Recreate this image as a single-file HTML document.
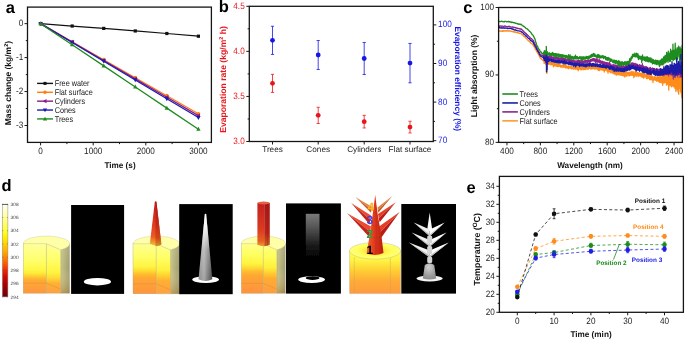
<!DOCTYPE html>
<html><head><meta charset="utf-8"><style>
html,body{margin:0;padding:0;background:#fff;}
svg{display:block;}
text{font-family:"Liberation Sans", sans-serif;text-rendering:geometricPrecision;}
svg{will-change:transform;}
</style></head><body>
<svg width="685" height="340" viewBox="0 0 685 340" font-family="Liberation Sans, sans-serif">
<rect width="685" height="340" fill="#fff"/>
<text x="5.8" y="12.8" font-size="16.5" text-anchor="start" fill="#000" font-weight="bold" >a</text>
<rect x="27.5" y="7.1" width="183.9" height="135.3" fill="none" stroke="#151515" stroke-width="1.3"/>
<line x1="24.5" y1="23.65" x2="27.5" y2="23.65" stroke="#1a1a1a" stroke-width="1.0" />
<text transform="translate(23.2,26.15) scale(0.89,1)" font-size="9.2" text-anchor="end" fill="#222" font-weight="normal" >0</text>
<line x1="24.5" y1="57.6" x2="27.5" y2="57.6" stroke="#1a1a1a" stroke-width="1.0" />
<text transform="translate(23.2,60.1) scale(0.89,1)" font-size="9.2" text-anchor="end" fill="#222" font-weight="normal" >-1</text>
<line x1="24.5" y1="91.55" x2="27.5" y2="91.55" stroke="#1a1a1a" stroke-width="1.0" />
<text transform="translate(23.2,94.05) scale(0.89,1)" font-size="9.2" text-anchor="end" fill="#222" font-weight="normal" >-2</text>
<line x1="24.5" y1="125.5" x2="27.5" y2="125.5" stroke="#1a1a1a" stroke-width="1.0" />
<text transform="translate(23.2,128) scale(0.89,1)" font-size="9.2" text-anchor="end" fill="#222" font-weight="normal" >-3</text>
<line x1="25.8" y1="40.62" x2="27.5" y2="40.62" stroke="#1a1a1a" stroke-width="1.0" />
<line x1="25.8" y1="74.57" x2="27.5" y2="74.57" stroke="#1a1a1a" stroke-width="1.0" />
<line x1="25.8" y1="108.53" x2="27.5" y2="108.53" stroke="#1a1a1a" stroke-width="1.0" />
<line x1="40.6" y1="142.4" x2="40.6" y2="145.4" stroke="#1a1a1a" stroke-width="1.0" />
<text transform="translate(40.6,154) scale(0.89,1)" font-size="9.2" text-anchor="middle" fill="#222" font-weight="normal" >0</text>
<line x1="93.2" y1="142.4" x2="93.2" y2="145.4" stroke="#1a1a1a" stroke-width="1.0" />
<text transform="translate(93.2,154) scale(0.89,1)" font-size="9.2" text-anchor="middle" fill="#222" font-weight="normal" >1000</text>
<line x1="145.8" y1="142.4" x2="145.8" y2="145.4" stroke="#1a1a1a" stroke-width="1.0" />
<text transform="translate(145.8,154) scale(0.89,1)" font-size="9.2" text-anchor="middle" fill="#222" font-weight="normal" >2000</text>
<line x1="198.4" y1="142.4" x2="198.4" y2="145.4" stroke="#1a1a1a" stroke-width="1.0" />
<text transform="translate(198.4,154) scale(0.89,1)" font-size="9.2" text-anchor="middle" fill="#222" font-weight="normal" >3000</text>
<line x1="66.9" y1="142.4" x2="66.9" y2="144.1" stroke="#1a1a1a" stroke-width="1.0" />
<line x1="119.5" y1="142.4" x2="119.5" y2="144.1" stroke="#1a1a1a" stroke-width="1.0" />
<line x1="172.1" y1="142.4" x2="172.1" y2="144.1" stroke="#1a1a1a" stroke-width="1.0" />
<text x="120" y="168" font-size="8.2" text-anchor="middle" fill="#111" font-weight="bold" >Time (s)</text>
<text transform="translate(10.8,83.1) rotate(-90)" font-size="8.5" text-anchor="middle" font-weight="bold" fill="#111">Mass change (kg/m<tspan font-size="5.5" dy="-3">2</tspan><tspan dy="3">)</tspan></text>
<polyline points="40.6,23.65 72.16,26.03 103.72,28.4 135.28,30.95 166.84,33.5 198.4,36.21" fill="none" stroke="#111111" stroke-width="1.25" stroke-linejoin="round" />
<rect x="39" y="22.05" width="3.2" height="3.2" fill="#111111"/>
<rect x="70.56" y="24.43" width="3.2" height="3.2" fill="#111111"/>
<rect x="102.12" y="26.8" width="3.2" height="3.2" fill="#111111"/>
<rect x="133.68" y="29.35" width="3.2" height="3.2" fill="#111111"/>
<rect x="165.24" y="31.9" width="3.2" height="3.2" fill="#111111"/>
<rect x="196.8" y="34.61" width="3.2" height="3.2" fill="#111111"/>
<polyline points="40.6,23.65 72.16,41.68 103.72,59.7 135.28,77.73 166.84,95.76 198.4,113.79" fill="none" stroke="#FF7F0E" stroke-width="1.25" stroke-linejoin="round" />
<circle cx="40.6" cy="23.65" r="1.9" fill="#FF7F0E"/>
<circle cx="72.16" cy="41.68" r="1.9" fill="#FF7F0E"/>
<circle cx="103.72" cy="59.7" r="1.9" fill="#FF7F0E"/>
<circle cx="135.28" cy="77.73" r="1.9" fill="#FF7F0E"/>
<circle cx="166.84" cy="95.76" r="1.9" fill="#FF7F0E"/>
<circle cx="198.4" cy="113.79" r="1.9" fill="#FF7F0E"/>
<polyline points="40.6,23.65 72.16,42.05 103.72,60.45 135.28,78.85 166.84,97.25 198.4,115.65" fill="none" stroke="#8B1A8B" stroke-width="1.25" stroke-linejoin="round" />
<polygon points="38.2,23.65 42.2,21.45 42.2,25.85" fill="#8B1A8B"/>
<polygon points="69.76,42.05 73.76,39.85 73.76,44.25" fill="#8B1A8B"/>
<polygon points="101.32,60.45 105.32,58.25 105.32,62.65" fill="#8B1A8B"/>
<polygon points="132.88,78.85 136.88,76.65 136.88,81.05" fill="#8B1A8B"/>
<polygon points="164.44,97.25 168.44,95.05 168.44,99.45" fill="#8B1A8B"/>
<polygon points="196,115.65 200,113.45 200,117.85" fill="#8B1A8B"/>
<polyline points="40.6,23.65 72.16,42.42 103.72,61.2 135.28,79.97 166.84,98.75 198.4,117.52" fill="none" stroke="#1A1AB4" stroke-width="1.25" stroke-linejoin="round" />
<polygon points="40.6,26.05 38.4,22.05 42.8,22.05" fill="#1A1AB4"/>
<polygon points="72.16,44.82 69.96,40.82 74.36,40.82" fill="#1A1AB4"/>
<polygon points="103.72,63.6 101.52,59.6 105.92,59.6" fill="#1A1AB4"/>
<polygon points="135.28,82.37 133.08,78.37 137.48,78.37" fill="#1A1AB4"/>
<polygon points="166.84,101.15 164.64,97.15 169.04,97.15" fill="#1A1AB4"/>
<polygon points="198.4,119.92 196.2,115.92 200.6,115.92" fill="#1A1AB4"/>
<polyline points="40.6,23.65 72.16,44.77 103.72,65.88 135.28,87 166.84,108.12 198.4,129.23" fill="none" stroke="#1E8B1E" stroke-width="1.25" stroke-linejoin="round" />
<polygon points="40.6,21.25 38.4,25.25 42.8,25.25" fill="#1E8B1E"/>
<polygon points="72.16,42.37 69.96,46.37 74.36,46.37" fill="#1E8B1E"/>
<polygon points="103.72,63.48 101.52,67.48 105.92,67.48" fill="#1E8B1E"/>
<polygon points="135.28,84.6 133.08,88.6 137.48,88.6" fill="#1E8B1E"/>
<polygon points="166.84,105.72 164.64,109.72 169.04,109.72" fill="#1E8B1E"/>
<polygon points="198.4,126.83 196.2,130.83 200.6,130.83" fill="#1E8B1E"/>
<line x1="37.1" y1="83.4" x2="53" y2="83.4" stroke="#111111" stroke-width="1.4" />
<rect x="43.48" y="81.88" width="3.04" height="3.04" fill="#111111"/>
<text transform="translate(54.7,86.2) scale(0.87,1)" font-size="8.4" text-anchor="start" fill="#222" font-weight="normal" >Free water</text>
<line x1="37.1" y1="92.28" x2="53" y2="92.28" stroke="#FF7F0E" stroke-width="1.4" />
<circle cx="45" cy="92.28" r="1.8" fill="#FF7F0E"/>
<text transform="translate(54.7,95.08) scale(0.87,1)" font-size="8.4" text-anchor="start" fill="#222" font-weight="normal" >Flat surface</text>
<line x1="37.1" y1="101.16" x2="53" y2="101.16" stroke="#8B1A8B" stroke-width="1.4" />
<polygon points="42.72,101.16 46.52,99.07 46.52,103.25" fill="#8B1A8B"/>
<text transform="translate(54.7,103.96) scale(0.87,1)" font-size="8.4" text-anchor="start" fill="#222" font-weight="normal" >Cylinders</text>
<line x1="37.1" y1="110.04" x2="53" y2="110.04" stroke="#1A1AB4" stroke-width="1.4" />
<polygon points="45,112.32 42.91,108.52 47.09,108.52" fill="#1A1AB4"/>
<text transform="translate(54.7,112.84) scale(0.87,1)" font-size="8.4" text-anchor="start" fill="#222" font-weight="normal" >Cones</text>
<line x1="37.1" y1="118.92" x2="53" y2="118.92" stroke="#1E8B1E" stroke-width="1.4" />
<polygon points="45,116.64 42.91,120.44 47.09,120.44" fill="#1E8B1E"/>
<text transform="translate(54.7,121.72) scale(0.87,1)" font-size="8.4" text-anchor="start" fill="#222" font-weight="normal" >Trees</text>
<text x="218.8" y="12" font-size="16.5" text-anchor="start" fill="#000" font-weight="bold" >b</text>
<rect x="249.3" y="6.3" width="184" height="135.2" fill="none" stroke="#151515" stroke-width="1.3"/>
<line x1="246.3" y1="141.5" x2="249.3" y2="141.5" stroke="#1a1a1a" stroke-width="1.0" />
<text transform="translate(244.7,144) scale(0.89,1)" font-size="9.2" text-anchor="end" fill="#E8161C" font-weight="normal" >3.0</text>
<line x1="246.3" y1="96.43" x2="249.3" y2="96.43" stroke="#1a1a1a" stroke-width="1.0" />
<text transform="translate(244.7,98.93) scale(0.89,1)" font-size="9.2" text-anchor="end" fill="#E8161C" font-weight="normal" >3.5</text>
<line x1="246.3" y1="51.37" x2="249.3" y2="51.37" stroke="#1a1a1a" stroke-width="1.0" />
<text transform="translate(244.7,53.87) scale(0.89,1)" font-size="9.2" text-anchor="end" fill="#E8161C" font-weight="normal" >4.0</text>
<line x1="246.3" y1="6.3" x2="249.3" y2="6.3" stroke="#1a1a1a" stroke-width="1.0" />
<text transform="translate(244.7,8.8) scale(0.89,1)" font-size="9.2" text-anchor="end" fill="#E8161C" font-weight="normal" >4.5</text>
<line x1="247.6" y1="118.97" x2="249.3" y2="118.97" stroke="#1a1a1a" stroke-width="1.0" />
<line x1="247.6" y1="73.9" x2="249.3" y2="73.9" stroke="#1a1a1a" stroke-width="1.0" />
<line x1="247.6" y1="28.83" x2="249.3" y2="28.83" stroke="#1a1a1a" stroke-width="1.0" />
<line x1="433.3" y1="140.7" x2="436.3" y2="140.7" stroke="#1a1a1a" stroke-width="1.0" />
<text transform="translate(438.1,143.2) scale(0.89,1)" font-size="9.2" text-anchor="start" fill="#1616E6" font-weight="normal" >70</text>
<line x1="433.3" y1="102.1" x2="436.3" y2="102.1" stroke="#1a1a1a" stroke-width="1.0" />
<text transform="translate(438.1,104.6) scale(0.89,1)" font-size="9.2" text-anchor="start" fill="#1616E6" font-weight="normal" >80</text>
<line x1="433.3" y1="63.5" x2="436.3" y2="63.5" stroke="#1a1a1a" stroke-width="1.0" />
<text transform="translate(438.1,66) scale(0.89,1)" font-size="9.2" text-anchor="start" fill="#1616E6" font-weight="normal" >90</text>
<line x1="433.3" y1="24.9" x2="436.3" y2="24.9" stroke="#1a1a1a" stroke-width="1.0" />
<text transform="translate(438.1,27.4) scale(0.89,1)" font-size="9.2" text-anchor="start" fill="#1616E6" font-weight="normal" >100</text>
<line x1="433.3" y1="121.4" x2="435" y2="121.4" stroke="#1a1a1a" stroke-width="1.0" />
<line x1="433.3" y1="82.8" x2="435" y2="82.8" stroke="#1a1a1a" stroke-width="1.0" />
<line x1="433.3" y1="44.2" x2="435" y2="44.2" stroke="#1a1a1a" stroke-width="1.0" />
<line x1="272.5" y1="141.5" x2="272.5" y2="144.5" stroke="#1a1a1a" stroke-width="1.0" />
<text x="272.5" y="151.9" font-size="8.2" text-anchor="middle" fill="#222" font-weight="normal" >Trees</text>
<line x1="318.2" y1="141.5" x2="318.2" y2="144.5" stroke="#1a1a1a" stroke-width="1.0" />
<text x="318.2" y="151.9" font-size="8.2" text-anchor="middle" fill="#222" font-weight="normal" >Cones</text>
<line x1="364.2" y1="141.5" x2="364.2" y2="144.5" stroke="#1a1a1a" stroke-width="1.0" />
<text x="364.2" y="151.9" font-size="8.2" text-anchor="middle" fill="#222" font-weight="normal" >Cylinders</text>
<line x1="410" y1="141.5" x2="410" y2="144.5" stroke="#1a1a1a" stroke-width="1.0" />
<text x="410" y="151.9" font-size="8.2" text-anchor="middle" fill="#222" font-weight="normal" >Flat surface</text>
<line x1="272.5" y1="74.35" x2="272.5" y2="92.38" stroke="#E8161C" stroke-width="0.8" />
<line x1="270.9" y1="74.35" x2="274.1" y2="74.35" stroke="#E8161C" stroke-width="0.8" />
<line x1="270.9" y1="92.38" x2="274.1" y2="92.38" stroke="#E8161C" stroke-width="0.8" />
<circle cx="272.5" cy="83.36" r="2.4" fill="#E8161C"/>
<line x1="318.2" y1="107.25" x2="318.2" y2="123.47" stroke="#E8161C" stroke-width="0.8" />
<line x1="316.6" y1="107.25" x2="319.8" y2="107.25" stroke="#E8161C" stroke-width="0.8" />
<line x1="316.6" y1="123.47" x2="319.8" y2="123.47" stroke="#E8161C" stroke-width="0.8" />
<circle cx="318.2" cy="115.36" r="2.4" fill="#E8161C"/>
<line x1="364.2" y1="115.36" x2="364.2" y2="127.98" stroke="#E8161C" stroke-width="0.8" />
<line x1="362.6" y1="115.36" x2="365.8" y2="115.36" stroke="#E8161C" stroke-width="0.8" />
<line x1="362.6" y1="127.98" x2="365.8" y2="127.98" stroke="#E8161C" stroke-width="0.8" />
<circle cx="364.2" cy="121.67" r="2.4" fill="#E8161C"/>
<line x1="410" y1="121.22" x2="410" y2="132.94" stroke="#E8161C" stroke-width="0.8" />
<line x1="408.4" y1="121.22" x2="411.6" y2="121.22" stroke="#E8161C" stroke-width="0.8" />
<line x1="408.4" y1="132.94" x2="411.6" y2="132.94" stroke="#E8161C" stroke-width="0.8" />
<circle cx="410" cy="127.08" r="2.4" fill="#E8161C"/>
<line x1="272.5" y1="26.25" x2="272.5" y2="54.43" stroke="#1616E6" stroke-width="0.8" />
<line x1="270.9" y1="26.25" x2="274.1" y2="26.25" stroke="#1616E6" stroke-width="0.8" />
<line x1="270.9" y1="54.43" x2="274.1" y2="54.43" stroke="#1616E6" stroke-width="0.8" />
<circle cx="272.5" cy="40.34" r="2.4" fill="#1616E6"/>
<line x1="318.2" y1="40.53" x2="318.2" y2="69.48" stroke="#1616E6" stroke-width="0.8" />
<line x1="316.6" y1="40.53" x2="319.8" y2="40.53" stroke="#1616E6" stroke-width="0.8" />
<line x1="316.6" y1="69.48" x2="319.8" y2="69.48" stroke="#1616E6" stroke-width="0.8" />
<circle cx="318.2" cy="55.01" r="2.4" fill="#1616E6"/>
<line x1="364.2" y1="42.46" x2="364.2" y2="74.5" stroke="#1616E6" stroke-width="0.8" />
<line x1="362.6" y1="42.46" x2="365.8" y2="42.46" stroke="#1616E6" stroke-width="0.8" />
<line x1="362.6" y1="74.5" x2="365.8" y2="74.5" stroke="#1616E6" stroke-width="0.8" />
<circle cx="364.2" cy="58.48" r="2.4" fill="#1616E6"/>
<line x1="410" y1="43.43" x2="410" y2="82.8" stroke="#1616E6" stroke-width="0.8" />
<line x1="408.4" y1="43.43" x2="411.6" y2="43.43" stroke="#1616E6" stroke-width="0.8" />
<line x1="408.4" y1="82.8" x2="411.6" y2="82.8" stroke="#1616E6" stroke-width="0.8" />
<circle cx="410" cy="63.11" r="2.4" fill="#1616E6"/>
<text transform="translate(225.5,79.5) rotate(-90)" font-size="8.6" text-anchor="middle" font-weight="bold" fill="#E8161C">Evaporation rate (kg/m<tspan font-size="5.5" dy="-3">2</tspan><tspan dy="3"> h)</tspan></text>
<text transform="translate(455.4,78.8) rotate(90)" font-size="8.4" text-anchor="middle" font-weight="bold" fill="#1616E6">Evaporation efficiency (%)</text>
<text x="463.3" y="12.8" font-size="16.5" text-anchor="start" fill="#000" font-weight="bold" >c</text>
<line x1="495.6" y1="142.4" x2="498.6" y2="142.4" stroke="#1a1a1a" stroke-width="1.0" />
<text transform="translate(494,144.9) scale(0.89,1)" font-size="9.2" text-anchor="end" fill="#222" font-weight="normal" >80</text>
<line x1="495.6" y1="74.95" x2="498.6" y2="74.95" stroke="#1a1a1a" stroke-width="1.0" />
<text transform="translate(494,77.45) scale(0.89,1)" font-size="9.2" text-anchor="end" fill="#222" font-weight="normal" >90</text>
<line x1="495.6" y1="7.5" x2="498.6" y2="7.5" stroke="#1a1a1a" stroke-width="1.0" />
<text transform="translate(494,10) scale(0.89,1)" font-size="9.2" text-anchor="end" fill="#222" font-weight="normal" >100</text>
<line x1="496.9" y1="108.68" x2="498.6" y2="108.68" stroke="#1a1a1a" stroke-width="1.0" />
<line x1="496.9" y1="41.23" x2="498.6" y2="41.23" stroke="#1a1a1a" stroke-width="1.0" />
<line x1="506.95" y1="142.4" x2="506.95" y2="145.4" stroke="#1a1a1a" stroke-width="1.0" />
<text transform="translate(506.95,153.6) scale(0.89,1)" font-size="9.2" text-anchor="middle" fill="#222" font-weight="normal" >400</text>
<line x1="540.37" y1="142.4" x2="540.37" y2="145.4" stroke="#1a1a1a" stroke-width="1.0" />
<text transform="translate(540.37,153.6) scale(0.89,1)" font-size="9.2" text-anchor="middle" fill="#222" font-weight="normal" >800</text>
<line x1="573.79" y1="142.4" x2="573.79" y2="145.4" stroke="#1a1a1a" stroke-width="1.0" />
<text transform="translate(573.79,153.6) scale(0.89,1)" font-size="9.2" text-anchor="middle" fill="#222" font-weight="normal" >1200</text>
<line x1="607.21" y1="142.4" x2="607.21" y2="145.4" stroke="#1a1a1a" stroke-width="1.0" />
<text transform="translate(607.21,153.6) scale(0.89,1)" font-size="9.2" text-anchor="middle" fill="#222" font-weight="normal" >1600</text>
<line x1="640.63" y1="142.4" x2="640.63" y2="145.4" stroke="#1a1a1a" stroke-width="1.0" />
<text transform="translate(640.63,153.6) scale(0.89,1)" font-size="9.2" text-anchor="middle" fill="#222" font-weight="normal" >2000</text>
<line x1="674.05" y1="142.4" x2="674.05" y2="145.4" stroke="#1a1a1a" stroke-width="1.0" />
<text transform="translate(674.05,153.6) scale(0.89,1)" font-size="9.2" text-anchor="middle" fill="#222" font-weight="normal" >2400</text>
<line x1="523.66" y1="142.4" x2="523.66" y2="144.1" stroke="#1a1a1a" stroke-width="1.0" />
<line x1="557.08" y1="142.4" x2="557.08" y2="144.1" stroke="#1a1a1a" stroke-width="1.0" />
<line x1="590.5" y1="142.4" x2="590.5" y2="144.1" stroke="#1a1a1a" stroke-width="1.0" />
<line x1="623.92" y1="142.4" x2="623.92" y2="144.1" stroke="#1a1a1a" stroke-width="1.0" />
<line x1="657.34" y1="142.4" x2="657.34" y2="144.1" stroke="#1a1a1a" stroke-width="1.0" />
<text x="590" y="167.5" font-size="8.2" text-anchor="middle" fill="#111" font-weight="bold" >Wavelength (nm)</text>
<text transform="translate(477.3,75.9) rotate(-90)" font-size="8.5" text-anchor="middle" font-weight="bold" fill="#111">Light absorption (%)</text>
<clipPath id="cclip"><rect x="498.6" y="7.5" width="183.7" height="134.8"/></clipPath>
<g clip-path="url(#cclip)">
<polyline points="498.6,25.74 499.02,25.76 499.44,26.38 499.85,26.38 500.27,25.89 500.69,25.98 501.11,26.04 501.52,26.3 501.94,26.12 502.36,26.14 502.78,26.17 503.2,26.47 503.61,26.31 504.03,26.35 504.45,26.14 504.87,25.98 505.28,26.03 505.7,26.32 506.12,26.4 506.54,26.54 506.95,26.71 507.37,26.74 507.79,26.46 508.21,26.58 508.63,26.55 509.04,26.22 509.46,26.49 509.88,26.5 510.3,26.82 510.71,27.06 511.13,26.96 511.55,27.19 511.97,27.04 512.38,26.81 512.8,27.13 513.22,27.57 513.64,27.19 514.06,27.35 514.47,27.5 514.89,27.48 515.31,27.68 515.73,27.76 516.14,28.16 516.56,27.84 516.98,27.95 517.4,28.59 517.82,28.29 518.23,28.42 518.65,28.69 519.07,28.75 519.49,28.87 519.9,28.68 520.32,29.07 520.74,28.95 521.16,29.37 521.58,29.17 521.99,29.56 522.41,30.25 522.83,30.58 523.25,30.74 523.66,31.27 524.08,31.82 524.5,32.4 524.92,32.73 525.33,32.87 525.75,33.63 526.17,33.53 526.59,34.35 527.01,34.32 527.42,35.12 527.84,35.08 528.26,35.65 528.68,36.18 529.09,36.57 529.51,36.87 529.93,37.31 530.35,37.9 530.76,38.37 531.18,38.56 531.6,38.67 532.02,39.28 532.44,40.04 532.85,39.94 533.27,40.4 533.69,41.11 534.11,42.43 534.52,42.89 534.94,44.18 535.36,44.61 535.78,45.7 536.2,46.57 536.61,46.96 537.03,48.31 537.45,48.87 537.87,49.48 538.28,50.72 538.7,51.58 539.12,51.96 539.54,53.1 539.96,53.74 540.37,55.03 540.79,54.93 541.21,55.18 541.63,54.97 542.04,55.49 542.46,55.02 542.88,55.77 543.3,55.42 543.71,57.63 543.83,56.72 543.95,54.5 544.07,57.19 544.18,57.11 544.3,55.09 544.42,56.37 544.53,57.79 544.65,53.99 544.77,57.42 544.88,57.92 545,56.7 545.12,55.63 545.24,55.62 545.35,57.04 545.47,56.59 545.59,57.5 545.7,56.38 545.82,55.39 545.94,55.44 546.05,54.81 546.17,55.32 546.29,54.84 546.4,55.47 546.52,56.53 546.64,57.77 546.72,64.54 546.76,55.63 546.87,57.47 546.99,58.57 547.11,56.79 547.22,54.79 547.34,58.26 547.46,56.25 547.57,57.07 547.69,56.61 547.81,57.95 547.93,55.19 548.04,57.48 548.16,56.46 548.28,57 548.39,57.95 548.51,56.72 548.63,57.55 548.74,58.3 548.86,57.49 548.98,56.93 549.09,56.56 549.21,57.72 549.33,57.69 549.45,56.71 549.56,56.51 549.68,57.31 549.8,58.75 549.91,58.2 550.03,58.9 550.15,57.92 550.26,57.17 550.38,57.77 550.5,58.05 550.62,56.05 550.73,57.51 550.85,57.4 550.97,57.31 551.08,58.5 551.2,57.79 551.32,56.32 551.43,58.05 551.55,57.25 551.67,58.61 551.79,56.64 551.9,58.89 552.02,57.85 552.14,58.42 552.25,58.81 552.37,58.03 552.49,58.86 552.6,58.57 552.72,58.05 552.84,57.1 552.95,58.82 553.07,58.95 553.19,57.46 553.31,56.83 553.42,57.13 553.54,57.91 553.66,58.04 553.77,58.57 553.89,58.02 554.01,57.16 554.12,57.1 554.24,58.75 554.36,58.69 554.48,57.58 554.59,57.85 554.71,59.19 554.83,56.78 554.94,59.71 555.06,57.1 555.18,57.78 555.29,58.75 555.41,57.76 555.53,58.41 555.64,59.31 555.76,57.07 555.88,59.39 556,57.74 556.11,57.28 556.23,57.81 556.35,57.05 556.46,58.2 556.58,58.27 556.7,57.41 556.81,58.44 556.93,58.74 557.05,57.33 557.17,58.6 557.28,59 557.4,58.14 557.52,57.63 557.63,58.28 557.75,58.17 557.87,58.39 557.98,58.09 558.1,58.28 558.22,60.01 558.33,58.1 558.45,57.65 558.57,59.84 558.69,58.06 558.8,58.15 558.92,59.66 559.04,59.82 559.15,59.04 559.27,58.71 559.39,59.7 559.5,60.12 559.62,58.03 559.74,58.28 559.86,58.51 559.97,59.63 560.09,59.48 560.21,59.92 560.32,58.3 560.44,58.61 560.56,58.12 560.67,60.04 560.79,59.24 560.91,60.49 561.03,57.93 561.14,59.1 561.26,59.38 561.38,59.76 561.49,59.31 561.61,57.12 561.73,59.83 561.84,58.53 561.96,59.63 562.08,60.46 562.19,59.68 562.31,58.46 562.43,59.08 562.55,60.17 562.66,60.19 562.78,57.22 562.9,59.83 563.01,60.15 563.13,60.45 563.25,60.13 563.36,58.45 563.48,59.23 563.6,60.94 563.72,60.48 563.83,60.01 563.95,58.89 564.07,58.87 564.18,60 564.3,60.17 564.42,58.62 564.53,59.27 564.65,59.15 564.77,58.83 564.88,59.16 565,60.43 565.12,59.43 565.24,60.19 565.35,58.69 565.47,60.01 565.59,60.81 565.7,61.48 565.82,60.39 565.94,58.99 566.05,60.22 566.17,60.78 566.29,60.38 566.41,59.74 566.52,60.62 566.64,61.24 566.76,60.96 566.87,60.4 566.99,60.63 567.11,60.93 567.22,60.69 567.34,60.7 567.46,59.34 567.58,59.56 567.69,60.27 567.81,60.78 567.93,60.07 568.04,59.05 568.16,60.48 568.28,60.92 568.39,60.18 568.51,60.36 568.63,59.17 568.74,60.63 568.86,61.73 568.98,59.21 569.1,59.39 569.21,60.1 569.33,61.08 569.45,61.03 569.56,61.6 569.68,61.77 569.8,58.99 569.91,61.41 570.03,60.57 570.15,61.72 570.27,59.64 570.38,60.73 570.5,59.79 570.62,60.83 570.73,62.79 570.85,62.04 570.97,61.18 571.08,59.9 571.2,60.29 571.32,59.77 571.43,61.97 571.55,60.57 571.67,61.26 571.79,61.13 571.9,61.23 572.02,60.13 572.14,61.05 572.25,60.28 572.37,61.74 572.49,60.48 572.6,62.3 572.72,61.85 572.84,60.84 572.96,60.73 573.07,60.54 573.19,62.32 573.31,60.24 573.42,61.84 573.54,62.19 573.66,61.03 573.77,59.93 573.89,60.1 574.01,61.75 574.13,60.32 574.24,61.81 574.36,61.04 574.48,61.47 574.59,61.37 574.71,62.28 574.83,61.89 574.94,62.06 575.06,61.2 575.18,61.25 575.29,62.13 575.41,60.82 575.53,61.49 575.65,61.78 575.76,62.04 575.88,61.46 576,61.49 576.11,61.93 576.23,61.15 576.35,62.19 576.46,61.03 576.58,60.98 576.7,62.27 576.82,60.84 576.93,62.32 577.05,62.01 577.17,60.93 577.28,61.71 577.4,60.4 577.52,62.56 577.63,61.3 577.75,62.77 577.87,60.49 577.98,61.63 578.1,60.51 578.22,62.19 578.34,60.51 578.45,61.12 578.57,61.44 578.69,61.63 578.8,61.95 578.92,62.7 579.04,62.03 579.15,60.48 579.27,61.83 579.39,62.55 579.51,61.7 579.62,62.91 579.74,60.67 579.86,62.09 579.97,62.92 580.09,61.8 580.21,61.65 580.32,61.25 580.44,63.17 580.56,62.91 580.68,62.4 580.79,61.62 580.91,60.56 581.03,63.07 581.14,62.14 581.26,62.49 581.38,62.07 581.49,62.4 581.61,60.88 581.73,63.09 581.84,62.41 581.96,61.69 582.08,61 582.2,61.34 582.31,60.63 582.43,60.76 582.55,61.02 582.66,61.84 582.78,62.34 582.9,62.72 583.01,60.84 583.13,61.61 583.25,61.8 583.37,61.28 583.48,62.31 583.6,63.08 583.72,63.18 583.83,63.15 583.95,61.99 584.07,61.51 584.18,61.89 584.3,60.83 584.42,62.14 584.53,62.27 584.65,61.72 584.77,62.06 584.89,60.67 585,61.48 585.12,61.61 585.24,61.59 585.35,60.55 585.47,61.64 585.59,61.97 585.7,62.01 585.82,62.55 585.94,60.55 586.06,62.07 586.17,60.83 586.29,61.61 586.41,61.22 586.52,61.14 586.64,60.76 586.76,61.25 586.87,61.58 586.99,60.44 587.11,61.86 587.23,60.56 587.34,61.21 587.46,62.64 587.58,61.26 587.69,60.33 587.81,61.87 587.93,60.84 588.04,61.92 588.16,61.94 588.28,61.08 588.39,61.75 588.51,60.18 588.63,61.73 588.75,61.28 588.86,61.05 588.98,60.32 589.1,60.89 589.21,62.52 589.33,62.27 589.45,61.55 589.56,60.49 589.68,60.17 589.8,62.15 589.92,61.23 590.03,62.62 590.15,62.12 590.27,60.78 590.38,60.81 590.5,59.43 590.62,60.27 590.73,61.34 590.85,61.44 590.97,59.59 591.08,59.81 591.2,60.98 591.32,60.12 591.44,59.33 591.55,61.09 591.67,59.31 591.79,60.86 591.9,60.77 592.02,59.76 592.14,60.88 592.25,59.97 592.37,60.72 592.49,59.24 592.61,58.78 592.72,58.88 592.84,60.43 592.96,60.03 593.07,60.36 593.19,59.76 593.31,60.82 593.42,60.04 593.54,59.61 593.66,58.29 593.77,58.76 593.89,59.78 594.01,60.92 594.13,58.74 594.24,59.7 594.36,59.1 594.48,60.68 594.59,60.95 594.71,60.04 594.83,61.28 594.94,59.21 595.06,60.83 595.18,59.71 595.3,59.72 595.41,61.16 595.53,62.92 595.65,59.47 595.76,59.09 595.88,59.04 596,60.8 596.11,59.75 596.23,61.97 596.35,60.1 596.47,59.5 596.58,61.63 596.7,59.23 596.82,60.72 596.93,61.96 597.05,58.29 597.17,59.63 597.28,59.82 597.4,61.44 597.52,59.8 597.63,62.14 597.75,60.78 597.87,61.82 597.99,62.27 598.1,61.29 598.22,60.69 598.34,61.68 598.45,60.78 598.57,62.2 598.69,60.2 598.8,61.72 598.92,60.62 599.04,62.13 599.16,59.1 599.27,60.87 599.39,61.08 599.51,60.98 599.62,62.2 599.74,62.47 599.86,62.97 599.97,62.24 600.09,61.62 600.21,62.57 600.32,62.38 600.44,63.02 600.56,60.68 600.68,63.01 600.79,63.25 600.91,62.61 601.03,61.57 601.14,62.05 601.26,62.59 601.38,63.31 601.49,63.02 601.61,63.16 601.73,61.44 601.85,62.69 601.96,61.43 602.08,61.03 602.2,61.62 602.31,62.36 602.43,62.41 602.55,62.42 602.66,61.54 602.78,64.02 602.9,62.8 603.02,62.42 603.13,63.75 603.25,62.2 603.37,63.17 603.48,61.81 603.6,61.84 603.72,64.42 603.83,64.25 603.95,62.44 604.07,64.08 604.18,64.68 604.3,62.05 604.42,63.94 604.54,62.66 604.65,62.17 604.77,63.21 604.89,63.48 605,64.22 605.12,65.05 605.24,63.91 605.35,65.05 605.47,64.64 605.59,64.37 605.71,63.29 605.82,65.3 605.94,62.33 606.06,63.32 606.17,65.35 606.29,64.21 606.41,64.36 606.52,65.19 606.64,64.71 606.76,65.15 606.87,64.4 606.99,62.69 607.11,65.75 607.23,62.73 607.34,63.47 607.46,62.92 607.58,64.01 607.69,66.83 607.81,63.74 607.93,63.62 608.04,66.99 608.16,66.13 608.28,63.22 608.4,65.92 608.51,64.13 608.63,65.01 608.75,63.51 608.86,64.1 608.98,66.36 609.1,65.73 609.21,65.85 609.33,64.37 609.45,61.89 609.57,64.76 609.68,65.79 609.8,63.88 609.92,66.36 610.03,66.05 610.15,66.26 610.27,64.72 610.38,65.09 610.5,66.03 610.62,63.86 610.73,66.94 610.85,66.82 610.97,64.98 611.09,66.02 611.2,65.17 611.32,65.86 611.44,66.99 611.55,65.2 611.67,65.32 611.79,65.9 611.9,65.88 612.02,66.89 612.14,65.38 612.26,66.93 612.37,66.61 612.49,65.7 612.61,64.96 612.72,68.45 612.84,65.14 612.96,65.28 613.07,66.62 613.19,67.55 613.31,65.96 613.42,64.79 613.54,65.52 613.66,65 613.78,64.44 613.89,66.4 614.01,67.3 614.13,65.5 614.24,67.26 614.36,68.04 614.48,69.9 614.59,66.18 614.71,66.85 614.83,66.48 614.95,65.2 615.06,65.81 615.18,67.63 615.3,65.62 615.41,67.94 615.53,65.7 615.65,65.2 615.76,66.48 615.88,67.35 616,67.88 616.12,67.14 616.23,66.4 616.35,65.87 616.47,67.21 616.58,66.39 616.7,65.67 616.82,67.31 616.93,65.06 617.05,66.91 617.17,68.35 617.28,66.15 617.4,65.33 617.52,65.71 617.64,68.23 617.75,65.76 617.87,67.86 617.99,67.47 618.1,66.27 618.22,68.39 618.34,68.67 618.45,65.97 618.57,68 618.69,68.26 618.81,67.97 618.92,66.97 619.04,68.58 619.16,68.94 619.27,68.01 619.39,65.62 619.51,67.26 619.62,67.24 619.74,66 619.86,67.12 619.97,67.12 620.09,68.69 620.21,66.06 620.33,68.44 620.44,68.55 620.56,68.63 620.68,67.89 620.79,66.89 620.91,66.84 621.03,65.59 621.14,67.95 621.26,67.02 621.38,65.26 621.5,68.4 621.61,67.29 621.73,67.42 621.85,66.63 621.96,67.69 622.08,67.29 622.2,68.27 622.31,67.99 622.43,66.76 622.55,66.38 622.67,69.26 622.78,66.53 622.9,65.91 623.02,67.74 623.13,66.1 623.25,66.53 623.37,69.9 623.48,66.97 623.6,64.1 623.72,68.06 623.83,67.35 623.95,68.26 624.07,66.3 624.19,67.52 624.3,66.46 624.42,67.21 624.54,67.11 624.65,67.68 624.77,67.8 624.89,67.79 625,66.39 625.12,68.94 625.24,67.53 625.36,68.21 625.47,66.16 625.59,67.19 625.71,65.84 625.82,64.54 625.94,66.75 626.06,65.47 626.17,66.18 626.29,68.17 626.41,66.04 626.52,67.66 626.64,68.07 626.76,70.47 626.88,66.07 626.99,66.15 627.11,65.64 627.23,69.33 627.34,68.54 627.46,67.93 627.58,65.28 627.69,67.34 627.81,68.67 627.93,68.38 628.05,65.79 628.16,66.19 628.28,65.38 628.4,67.97 628.51,66.94 628.63,66.22 628.75,65.05 628.86,67.8 628.98,67.66 629.1,65.24 629.21,70.03 629.33,64.93 629.45,65.46 629.57,67.74 629.68,68.12 629.8,66.27 629.92,65.29 630.03,67.26 630.15,66.16 630.27,65.5 630.38,66.56 630.5,66.38 630.62,65.63 630.74,64.17 630.85,65.49 630.97,66.92 631.09,64.84 631.2,63.27 631.32,64.44 631.44,65.03 631.55,63.21 631.67,65.21 631.79,63.66 631.91,63.67 632.02,64.27 632.14,64.12 632.26,63.59 632.37,64.46 632.49,65.25 632.61,64.84 632.72,63.78 632.84,62.77 632.96,63.93 633.07,63.57 633.19,64.49 633.31,66.31 633.43,65.77 633.54,63.8 633.66,67.31 633.78,64.56 633.89,65.82 634.01,64.98 634.13,63.43 634.24,65.89 634.36,64.56 634.48,63.93 634.6,64.11 634.71,65.82 634.83,63.94 634.95,64.84 635.06,66.98 635.18,65.8 635.3,63.82 635.41,65.56 635.53,66.71 635.65,67.3 635.76,64.81 635.88,63.5 636,65.25 636.12,65.34 636.23,65.58 636.35,65.58 636.47,64.53 636.58,67.33 636.7,64.88 636.82,65.06 636.93,64.79 637.05,64.44 637.17,65.46 637.29,64.87 637.4,66.12 637.52,66.32 637.64,64.33 637.75,67.54 637.87,67.32 637.99,68.05 638.1,66.63 638.22,67.62 638.34,65.62 638.46,67.81 638.57,67.23 638.69,68.05 638.81,67.94 638.92,66.46 639.04,65.5 639.16,66.24 639.27,67.74 639.39,64.67 639.51,65.97 639.62,66.66 639.74,66 639.86,68.85 639.98,68.03 640.09,67.06 640.21,66.53 640.33,66.56 640.44,68.19 640.56,65.2 640.68,67.05 640.79,67.33 640.91,68.07 641.03,67.55 641.15,66.89 641.26,65.64 641.38,70.71 641.5,66.18 641.61,67.73 641.73,68.82 641.85,68.21 641.96,68.28 642.08,69.18 642.2,68.97 642.31,63.67 642.43,68.64 642.55,69.76 642.67,69.56 642.78,67.99 642.9,66.2 643.02,66.75 643.13,66.94 643.25,66.74 643.37,66.01 643.48,69.78 643.6,68.84 643.72,69.22 643.84,67.84 643.95,67.47 644.07,66.98 644.19,69.67 644.3,68.8 644.42,69.67 644.54,69.23 644.65,70.31 644.77,68.69 644.89,69.93 645.01,66.97 645.12,66.36 645.24,68.4 645.36,67.9 645.47,67.76 645.59,68.56 645.71,67.78 645.82,68.26 645.94,68.43 646.06,67.16 646.17,69.44 646.29,70.76 646.41,67 646.53,68.46 646.64,66.65 646.76,67.64 646.88,68.64 646.99,67.53 647.11,67.46 647.23,68.69 647.34,70.1 647.46,68.95 647.58,71.77 647.7,68.51 647.81,68.68 647.93,69.52 648.05,68.07 648.16,69.73 648.28,69.75 648.4,71.08 648.51,68.64 648.63,69.38 648.75,69.38 648.86,68.95 648.98,69.98 649.1,68.06 649.22,67.96 649.33,70.86 649.45,69.06 649.57,70.38 649.68,69.37 649.8,69.78 649.92,70.41 650.03,67.97 650.15,70.38 650.27,68.63 650.39,67.32 650.5,69.73 650.62,69.44 650.74,68.75 650.85,68.17 650.97,69.55 651.09,69.27 651.2,69.31 651.32,69.19 651.44,68.69 651.56,70.25 651.67,71.26 651.79,69.67 651.91,70.12 652.02,70.27 652.14,69.3 652.26,68.95 652.37,68.24 652.49,68.05 652.61,69.12 652.72,68.43 652.84,71.82 652.96,71.8 653.08,68.6 653.19,69.07 653.31,71.9 653.43,70.11 653.54,73.86 653.66,71.21 653.78,68.59 653.89,68.73 654.01,69.6 654.13,71.84 654.25,70.21 654.36,70.64 654.48,69.06 654.6,72.11 654.71,68.91 654.83,68.98 654.95,71.11 655.06,72.23 655.18,71.13 655.3,70.14 655.41,69.64 655.53,71.37 655.65,70.45 655.77,69.68 655.88,71.73 656,70.52 656.12,73.39 656.23,69.25 656.35,68.7 656.47,71.67 656.58,71.87 656.7,72.65 656.82,71.7 656.94,71.71 657.05,71.28 657.17,73.13 657.29,70.18 657.4,69.27 657.52,72.09 657.64,69.18 657.75,73.42 657.87,73.25 657.99,70.21 658.1,71.16 658.22,71.73 658.34,72.9 658.46,69.38 658.57,73.41 658.69,70.47 658.81,73.13 658.92,70.14 659.04,70.62 659.16,72.62 659.27,69.24 659.39,70.11 659.51,70.44 659.63,73.66 659.74,69.27 659.86,72.4 659.98,70.03 660.09,74.27 660.21,71.29 660.33,75.03 660.44,72.62 660.56,71.21 660.68,73.13 660.8,71.81 660.91,74.94 661.03,71.04 661.15,72.98 661.26,73.85 661.38,75.31 661.5,74.19 661.61,69.26 661.73,74.61 661.85,73.24 661.96,74.06 662.08,69.32 662.2,74.64 662.32,75.38 662.43,71.35 662.55,72.8 662.67,75.23 662.78,75.9 662.9,76.31 663.02,69.53 663.13,74.4 663.25,76.34 663.37,72.73 663.49,73.08 663.6,73.51 663.72,76.49 663.84,66.26 663.95,70.48 664.07,72.37 664.19,71.05 664.3,72.97 664.42,72.89 664.54,75.71 664.65,75.98 664.77,72.52 664.89,76.32 665.01,71.13 665.12,74.2 665.24,69.39 665.36,74.39 665.47,70.25 665.59,76.97 665.71,72.35 665.82,77.63 665.94,69.9 666.06,72.14 666.18,75.56 666.29,73.86 666.41,72.69 666.53,70.45 666.64,71.83 666.76,74.5 666.88,75.87 666.99,70.27 667.11,73.72 667.23,69.95 667.35,76.99 667.46,70.72 667.58,74.16 667.7,73.61 667.81,70.04 667.93,69.69 668.05,74.4 668.16,76.49 668.28,70.19 668.4,70.67 668.51,72.74 668.63,76.59 668.75,71.28 668.87,73.25 668.98,78.96 669.1,68.23 669.22,76.27 669.33,78.76 669.45,75.66 669.57,71.23 669.68,77.86 669.8,70.1 669.92,72.43 670.04,76.48 670.15,71.08 670.27,77.69 670.39,79.17 670.5,73.97 670.62,73.27 670.74,74.71 670.85,71.49 670.97,69.76 671.09,78.01 671.2,77.21 671.32,77.83 671.44,70.84 671.56,72.86 671.67,73.35 671.79,71.9 671.91,74.49 672.02,76.44 672.14,72.94 672.26,71.74 672.37,78.28 672.49,70.72 672.61,80.28 672.73,78.67 672.84,70.49 672.96,75.78 673.08,79.57 673.19,78.47 673.31,72.73 673.43,72.7 673.54,70.69 673.66,80.71 673.78,81.12 673.9,74.38 674.01,78.48 674.13,77.03 674.25,80.7 674.36,71.31 674.48,71.73 674.6,74.81 674.71,79.36 674.83,71.81 674.95,70.51 675.06,73.47 675.18,79.01 675.3,71.68 675.42,77.24 675.53,78.42 675.65,70.38 675.77,76.91 675.88,82.08 676,65.48 676.12,79.93 676.23,79.36 676.35,72.39 676.47,79.26 676.59,79.25 676.7,76.48 676.82,78.33 676.94,70.75 677.05,71.68 677.17,72.91 677.29,81.53 677.4,80.86 677.52,80.26 677.64,78.53 677.75,79.58 677.87,72.39 677.99,75.16 678.11,73.45 678.22,80.04 678.34,71.65 678.46,79.77 678.57,70.2 678.69,78.91 678.81,77.1 678.92,75.43 679.04,79.17 679.16,77.28 679.28,70.94 679.39,80.7 679.51,79.53 679.63,76.87 679.74,62.3 679.86,78.14 679.98,79.15 680.09,73.1 680.21,73.45 680.33,73.29 680.45,75.89 680.56,80.89 680.68,79.39 680.8,85.8 680.91,76.45 681.03,75.24 681.15,83.55 681.26,83.05 681.38,75.44 681.5,78.29 681.61,68.88 681.73,76 681.85,84.06 681.97,82.87 682.08,79.34 682.2,78.06 682.32,78.84" fill="none" stroke="#8E238E" stroke-width="1.3" stroke-linejoin="round" />
<polyline points="498.6,31.35 499.02,30.86 499.44,30.9 499.85,31.23 500.27,31.06 500.69,31.08 501.11,30.93 501.52,30.82 501.94,31.28 502.36,31.31 502.78,30.76 503.2,31.01 503.61,30.78 504.03,31.28 504.45,30.97 504.87,30.77 505.28,31.09 505.7,30.59 506.12,30.61 506.54,31.19 506.95,31.18 507.37,30.82 507.79,30.53 508.21,30.9 508.63,31 509.04,30.85 509.46,31.1 509.88,30.98 510.3,30.94 510.71,31.01 511.13,31.3 511.55,31.41 511.97,31.52 512.38,31.47 512.8,31.69 513.22,31.98 513.64,31.54 514.06,31.84 514.47,31.89 514.89,32.3 515.31,31.87 515.73,32.07 516.14,32.67 516.56,32.64 516.98,32.49 517.4,32.6 517.82,32.56 518.23,33.01 518.65,32.85 519.07,33.06 519.49,33.42 519.9,33.33 520.32,33.24 520.74,33.38 521.16,33.72 521.58,33.83 521.99,34.61 522.41,34.87 522.83,34.91 523.25,35.57 523.66,36.14 524.08,36.29 524.5,36.6 524.92,37.02 525.33,37.63 525.75,37.99 526.17,38.35 526.59,38.58 527.01,39.16 527.42,39.65 527.84,39.99 528.26,40.71 528.68,41.11 529.09,41.07 529.51,41.29 529.93,41.96 530.35,42.5 530.76,43.05 531.18,43.24 531.6,43.32 532.02,43.87 532.44,44.43 532.85,44.62 533.27,45.45 533.69,46.02 534.11,46.47 534.52,47.48 534.94,48.31 535.36,49.2 535.78,49.76 536.2,50.24 536.61,51.64 537.03,51.87 537.45,52.59 537.87,53.3 538.28,54.16 538.7,54.86 539.12,55.81 539.54,56.54 539.96,57.38 540.37,58.39 540.79,58.21 541.21,58.78 541.63,59.39 542.04,59.56 542.46,59.94 542.88,60.39 543.3,60.77 543.71,60.88 543.83,60.63 543.95,60.78 544.07,61.51 544.18,63.35 544.3,62.64 544.42,62.96 544.53,61.41 544.65,60.39 544.77,60.75 544.88,60.86 545,60.86 545.12,63.16 545.24,61.33 545.35,61.74 545.47,63.58 545.59,63.97 545.7,64.15 545.82,61.32 545.94,63.48 546.05,64.23 546.17,61.84 546.29,63.3 546.4,64.89 546.52,64.52 546.56,52.43 546.64,62.41 546.76,64.73 546.87,64.16 546.97,73.45 546.99,61.29 547.11,62.98 547.22,63.78 547.34,62.91 547.46,65.32 547.57,63.39 547.69,63.22 547.81,64.26 547.93,64.53 548.04,61.41 548.16,62.94 548.28,63.95 548.39,62.72 548.51,62.23 548.63,64.23 548.74,64.12 548.86,62.77 548.98,62.89 549.09,63.17 549.21,61.97 549.33,63.24 549.45,62.91 549.56,63.14 549.68,63.67 549.8,62.14 549.91,63.96 550.03,63.98 550.15,62.84 550.26,62.97 550.38,64.81 550.5,62.34 550.62,64.51 550.73,62.37 550.85,63.66 550.97,64.13 551.08,63.27 551.2,64.06 551.32,64.36 551.43,64.31 551.55,63.76 551.67,64.36 551.79,63.17 551.9,64.73 552.02,63.08 552.14,64.44 552.25,63.55 552.37,62.77 552.49,64.58 552.6,63.04 552.72,63.47 552.84,63.27 552.95,64.65 553.07,63.25 553.19,63.03 553.31,65.27 553.42,66.75 553.54,63.34 553.66,63.46 553.77,64.06 553.89,64.72 554.01,65.92 554.12,63.38 554.24,63.31 554.36,65.08 554.48,63.07 554.59,64.38 554.71,65.79 554.83,63.25 554.94,65.63 555.06,65.31 555.18,65.71 555.29,64.99 555.41,63.58 555.53,65.37 555.64,65.81 555.76,64.43 555.88,65.32 556,64.93 556.11,66 556.23,63.57 556.35,65.91 556.46,64.57 556.58,64.79 556.7,64.49 556.81,64.84 556.93,66.37 557.05,63.69 557.17,64.61 557.28,63.85 557.4,65.58 557.52,65.58 557.63,64.04 557.75,65.58 557.87,64.94 557.98,66.69 558.1,66.35 558.22,65.94 558.33,65.8 558.45,65.28 558.57,66.22 558.69,63.06 558.8,66.21 558.92,64.04 559.04,65.81 559.15,64.26 559.27,64.36 559.39,64.93 559.5,64.37 559.62,64.39 559.74,64.84 559.86,66.4 559.97,66.47 560.09,65.12 560.21,66.77 560.32,64.79 560.44,65.53 560.56,65.79 560.67,66.12 560.79,66.99 560.91,65.95 561.03,66.93 561.14,66.75 561.26,66.45 561.38,66.09 561.49,65.54 561.61,67.19 561.73,65.88 561.84,66.07 561.96,65.31 562.08,65.97 562.19,66.72 562.31,65.83 562.43,64.89 562.55,67.03 562.66,66.03 562.78,67 562.9,65.07 563.01,65.61 563.13,66.5 563.25,65.54 563.36,65.24 563.48,64.98 563.6,67.12 563.72,67.03 563.83,65 563.95,65.72 564.07,66.29 564.18,64.18 564.3,65.54 564.42,67.03 564.53,65.18 564.65,65.7 564.77,66.03 564.88,66.64 565,65.24 565.12,65.71 565.24,67.46 565.35,67.58 565.47,65.03 565.59,67.53 565.7,67.32 565.82,68 565.94,66.44 566.05,66.42 566.17,67.52 566.29,66.64 566.41,66.55 566.52,66.3 566.64,65.99 566.76,66.72 566.87,65.91 566.99,66.7 567.11,66.5 567.22,67.96 567.34,66.83 567.46,66.27 567.58,67.98 567.69,66.83 567.81,67.04 567.93,67.18 568.04,67.22 568.16,67.38 568.28,66.64 568.39,66.76 568.51,68.7 568.63,66.93 568.74,66.33 568.86,65.93 568.98,66.36 569.1,66.63 569.21,67.84 569.33,67.01 569.45,68.09 569.56,67.58 569.68,66.43 569.8,66.79 569.91,66.77 570.03,66.8 570.15,67.09 570.27,67.76 570.38,67.17 570.5,66.78 570.62,66.83 570.73,67.28 570.85,68.21 570.97,66.57 571.08,68.53 571.2,67.64 571.32,68.84 571.43,66.96 571.55,68.02 571.67,68.93 571.79,66.44 571.9,67.92 572.02,67.38 572.14,68.47 572.25,67.24 572.37,67.63 572.49,67.67 572.6,68.61 572.72,67.15 572.84,68.36 572.96,68.47 573.07,68.64 573.19,66.77 573.31,68.52 573.42,67.22 573.54,69.06 573.66,67.47 573.77,68 573.89,67.05 574.01,67.49 574.13,66.56 574.24,66.74 574.36,67.57 574.48,67.8 574.59,68.86 574.71,68.26 574.83,68.6 574.94,67.32 575.06,68.98 575.18,68.96 575.29,69.14 575.41,66.9 575.53,69.21 575.65,67.12 575.76,67.67 575.88,66.45 576,69.09 576.11,68.02 576.23,68.91 576.35,67.16 576.46,67.82 576.58,67.46 576.7,67.8 576.82,65.76 576.93,67.11 577.05,68.4 577.17,66.96 577.28,67.08 577.4,69.05 577.52,69.43 577.63,68.07 577.75,69.14 577.87,67.23 577.98,68.31 578.1,69.4 578.22,70.74 578.34,67.82 578.45,67.69 578.57,67.77 578.69,67.86 578.8,67.84 578.92,69.42 579.04,68 579.15,67.97 579.27,68.68 579.39,68.51 579.51,67.26 579.62,67.85 579.74,67.65 579.86,67.63 579.97,67.04 580.09,67.2 580.21,68.71 580.32,67.51 580.44,68.71 580.56,69.61 580.68,68.53 580.79,68.67 580.91,67.29 581.03,69.51 581.14,69.91 581.26,67.8 581.38,69.44 581.49,67.62 581.61,68.99 581.73,69.15 581.84,68.93 581.96,67.72 582.08,67.77 582.2,68.64 582.31,67.92 582.43,67.98 582.55,67.46 582.66,69.1 582.78,68.88 582.9,69.6 583.01,67.29 583.13,68.09 583.25,69.03 583.37,68.95 583.48,68.46 583.6,69.4 583.72,68.91 583.83,69.59 583.95,68.47 584.07,67.25 584.18,67.54 584.3,67.25 584.42,69.36 584.53,68.16 584.65,67.58 584.77,67.67 584.89,67.14 585,68.58 585.12,67.01 585.24,69.19 585.35,67.78 585.47,67.18 585.59,68.5 585.7,69.32 585.82,69.64 585.94,67.87 586.06,68.22 586.17,67.82 586.29,67.65 586.41,67.25 586.52,68.76 586.64,67.9 586.76,67.09 586.87,67.67 586.99,66.93 587.11,67.51 587.23,66.76 587.34,68.9 587.46,67.35 587.58,68.11 587.69,67.03 587.81,66.68 587.93,68.15 588.04,68.57 588.16,69.35 588.28,68.54 588.39,67.33 588.51,67.87 588.63,67.83 588.75,67.85 588.86,66.73 588.98,67.59 589.1,68.46 589.21,67.68 589.33,66.62 589.45,67.53 589.56,67.25 589.68,68.23 589.8,66.68 589.92,67.39 590.03,66.69 590.15,68.14 590.27,67.02 590.38,67.13 590.5,68.23 590.62,68.82 590.73,69.06 590.85,68.41 590.97,67.51 591.08,66.39 591.2,67.69 591.32,67.19 591.44,66.95 591.55,67.1 591.67,66.39 591.79,68.79 591.9,66.38 592.02,68.95 592.14,67.69 592.25,67.9 592.37,66.32 592.49,66.24 592.61,67.5 592.72,66.35 592.84,68.67 592.96,67.78 593.07,68.61 593.19,68.15 593.31,66.72 593.42,66.75 593.54,68.72 593.66,67.11 593.77,67.57 593.89,68.69 594.01,68.73 594.13,66.5 594.24,67.6 594.36,66.58 594.48,68.28 594.59,66.59 594.71,68.52 594.83,68.19 594.94,69.14 595.06,67.31 595.18,66.44 595.3,67.67 595.41,67.06 595.53,68.59 595.65,67.25 595.76,68.91 595.88,67.69 596,66.56 596.11,67.58 596.23,68.16 596.35,67.36 596.47,68.76 596.58,68.04 596.7,67.66 596.82,66.89 596.93,68.5 597.05,67.46 597.17,67.12 597.28,68.58 597.4,68.55 597.52,69.12 597.63,69.29 597.75,67.51 597.87,67.58 597.99,69.01 598.1,67.02 598.22,70.3 598.34,68.81 598.45,67.66 598.57,68.67 598.69,68.77 598.8,69.3 598.92,67.45 599.04,68.82 599.16,69.45 599.27,70.65 599.39,69.38 599.51,67.04 599.62,69.11 599.74,69.03 599.86,68.9 599.97,68.83 600.09,67.98 600.21,68.1 600.32,68.71 600.44,68.08 600.56,68.27 600.68,68.79 600.79,68.09 600.91,69.85 601.03,69.5 601.14,68.73 601.26,69.3 601.38,68.47 601.49,69.33 601.61,68.12 601.73,68.47 601.85,67.94 601.96,70.07 602.08,68.1 602.2,67.41 602.31,67.52 602.43,67.65 602.55,69.22 602.66,69.77 602.78,69.1 602.9,69.93 603.02,69.48 603.13,67.86 603.25,70.32 603.37,67.52 603.48,69.2 603.6,67.66 603.72,68 603.83,69.12 603.95,69.19 604.07,70.33 604.18,70.42 604.3,72.03 604.42,70.19 604.54,69.55 604.65,67.63 604.77,68.69 604.89,68.22 605,68.29 605.12,69.1 605.24,70.41 605.35,68.06 605.47,68.21 605.59,68.95 605.71,68.88 605.82,69.92 605.94,68.57 606.06,68.97 606.17,68.92 606.29,68.44 606.41,69.27 606.52,70.27 606.64,66.77 606.76,70.21 606.87,70.92 606.99,71.19 607.11,68.45 607.23,69.08 607.34,70.12 607.46,69.19 607.58,71.09 607.69,70.01 607.81,68.81 607.93,71.35 608.04,73.17 608.16,71.33 608.28,69.8 608.4,71.07 608.51,68.89 608.63,69.41 608.75,70.06 608.86,69.19 608.98,69.74 609.1,69.04 609.21,70.12 609.33,71.54 609.45,69.3 609.57,71.83 609.68,70.76 609.8,69.88 609.92,70.15 610.03,70.3 610.15,70.84 610.27,69.51 610.38,71.41 610.5,70.61 610.62,69.54 610.73,72.77 610.85,71.82 610.97,71.51 611.09,69.66 611.2,71.91 611.32,71.52 611.44,71.66 611.55,71.78 611.67,72.46 611.79,71.97 611.9,71.32 612.02,70.64 612.14,70.85 612.26,72.86 612.37,72.2 612.49,71.85 612.61,73.02 612.72,72.84 612.84,71.73 612.96,72.13 613.07,71.67 613.19,72.34 613.31,70.42 613.42,73.55 613.54,72.48 613.66,71.81 613.78,73.09 613.89,72.6 614.01,71.69 614.13,72.77 614.24,73.26 614.36,72.88 614.48,73.8 614.59,73.43 614.71,73.19 614.83,72.19 614.95,71.67 615.06,74.11 615.18,73.25 615.3,71.06 615.41,74.03 615.53,72.22 615.65,73.71 615.76,74.03 615.88,72.03 616,73.17 616.12,74.06 616.23,75.25 616.35,73.88 616.47,73.28 616.58,72.49 616.7,72.42 616.82,71.45 616.93,71.71 617.05,72.03 617.17,72.4 617.28,74.32 617.4,74.4 617.52,71.93 617.64,71.59 617.75,74.54 617.87,74.74 617.99,73.36 618.1,72.84 618.22,73.16 618.34,74.29 618.45,71.9 618.57,70.55 618.69,73.43 618.81,74.46 618.92,71.88 619.04,74.98 619.16,71.63 619.27,73.77 619.39,72.36 619.51,72.92 619.62,72.01 619.74,71.93 619.86,72.04 619.97,73.8 620.09,74.21 620.21,73.26 620.33,74.4 620.44,72.59 620.56,73.95 620.68,72.62 620.79,75.09 620.91,75.47 621.03,74.33 621.14,73.57 621.26,73.48 621.38,73.32 621.5,74.02 621.61,74.2 621.73,74.51 621.85,72.45 621.96,75.35 622.08,73.91 622.2,72.15 622.31,75.5 622.43,73.53 622.55,74.89 622.67,73.87 622.78,75.09 622.9,72.49 623.02,75.65 623.13,73.31 623.25,75.23 623.37,74.26 623.48,74.94 623.6,72.47 623.72,75.83 623.83,72.7 623.95,75.63 624.07,74.76 624.19,76 624.3,73.31 624.42,75.94 624.54,73.61 624.65,74.49 624.77,76.99 624.89,73.87 625,75.06 625.12,75.84 625.24,74.79 625.36,73.32 625.47,70.35 625.59,75.9 625.71,72.74 625.82,75.69 625.94,75.87 626.06,75.2 626.17,74.13 626.29,74.5 626.41,75.23 626.52,73.37 626.64,72.42 626.76,76.33 626.88,75.55 626.99,73.41 627.11,74.28 627.23,74.98 627.34,73.24 627.46,72.27 627.58,73.75 627.69,73.98 627.81,73.28 627.93,72.6 628.05,74.07 628.16,73.27 628.28,73.69 628.4,73.52 628.51,74.65 628.63,75.66 628.75,72.39 628.86,74.11 628.98,72.24 629.1,73.39 629.21,74.11 629.33,74.41 629.45,75.75 629.57,72.9 629.68,75.71 629.8,73.47 629.92,72.37 630.03,73.15 630.15,73.23 630.27,73.04 630.38,73.36 630.5,71.96 630.62,75 630.74,73.73 630.85,74.27 630.97,74.04 631.09,73.87 631.2,75.39 631.32,71.98 631.44,73.23 631.55,74.7 631.67,74.82 631.79,71.74 631.91,71.19 632.02,74.41 632.14,73.56 632.26,73.42 632.37,73.57 632.49,73.2 632.61,74.43 632.72,75.4 632.84,75.27 632.96,73.64 633.07,72.67 633.19,71.72 633.31,74.2 633.43,75.3 633.54,73.69 633.66,72.06 633.78,77.6 633.89,72.85 634.01,75.36 634.13,76.86 634.24,75 634.36,74.68 634.48,74.88 634.6,75.06 634.71,74.96 634.83,74.12 634.95,75.85 635.06,73.4 635.18,75.12 635.3,70.92 635.41,72.48 635.53,72.68 635.65,75.91 635.76,74.7 635.88,74.32 636,74.89 636.12,70.9 636.23,72.87 636.35,75.03 636.47,74.49 636.58,76.11 636.7,75.46 636.82,74.42 636.93,73.59 637.05,72.77 637.17,74.59 637.29,72.94 637.4,72.63 637.52,74.46 637.64,72.76 637.75,72.64 637.87,73.34 637.99,74.59 638.1,74.86 638.22,76.44 638.34,75.84 638.46,72.94 638.57,75.95 638.69,73.99 638.81,76.28 638.92,75.65 639.04,75.94 639.16,75.38 639.27,74.4 639.39,72.88 639.51,75.44 639.62,74.51 639.74,73.73 639.86,75.3 639.98,74.68 640.09,73.23 640.21,74.21 640.33,75.43 640.44,74.05 640.56,74.32 640.68,76.04 640.79,73.37 640.91,75.26 641.03,76.78 641.15,76.1 641.26,76.45 641.38,73.27 641.5,76.1 641.61,74.92 641.73,74.84 641.85,74.86 641.96,73.5 642.08,75.22 642.2,75.76 642.31,77 642.43,74.1 642.55,76.5 642.67,76.59 642.78,74.86 642.9,73.05 643.02,76.7 643.13,75.11 643.25,74.74 643.37,77.58 643.48,77.94 643.6,76.15 643.72,78.12 643.84,74.61 643.95,73.54 644.07,74.03 644.19,75.84 644.3,76.82 644.42,75.93 644.54,76.61 644.65,74.45 644.77,76.77 644.89,74.01 645.01,75.78 645.12,74.18 645.24,76.7 645.36,75.82 645.47,75.67 645.59,76.96 645.71,76.67 645.82,75.96 645.94,76.74 646.06,74.87 646.17,77.49 646.29,77.5 646.41,78.46 646.53,76.16 646.64,74.67 646.76,76.26 646.88,78.72 646.99,76.34 647.11,78.12 647.23,78.66 647.34,75.3 647.46,75.92 647.58,76.29 647.7,77.46 647.81,77.12 647.93,74.88 648.05,74.84 648.16,78.43 648.28,74.5 648.4,76.99 648.51,74.87 648.63,78.17 648.75,77.9 648.86,75.34 648.98,78.07 649.1,77.58 649.22,77.05 649.33,76.8 649.45,76.95 649.57,78.37 649.68,79.65 649.8,79.18 649.92,76.8 650.03,77 650.15,76.15 650.27,74.9 650.39,79.46 650.5,77.93 650.62,77.93 650.74,79.82 650.85,75.6 650.97,78.28 651.09,76.56 651.2,77.39 651.32,76.61 651.44,74.2 651.56,79.14 651.67,78.21 651.79,79.96 651.91,76.03 652.02,77.99 652.14,77.86 652.26,76.3 652.37,78.2 652.49,79.75 652.61,77.65 652.72,76.76 652.84,78.42 652.96,82.52 653.08,79.86 653.19,79.11 653.31,80.55 653.43,78.6 653.54,79.28 653.66,79.26 653.78,79.93 653.89,78.7 654.01,78.3 654.13,79.36 654.25,76.45 654.36,77.93 654.48,79.42 654.6,78.79 654.71,79.13 654.83,79.98 654.95,80.09 655.06,79.91 655.18,76.86 655.3,79.58 655.41,79.53 655.53,78.39 655.65,79.28 655.77,77.23 655.88,80.2 656,78.01 656.12,80.49 656.23,77.11 656.35,78.53 656.47,77.45 656.58,81.11 656.7,79.64 656.82,80.1 656.94,78.22 657.05,80.82 657.17,78.11 657.29,78.04 657.4,79.56 657.52,78.63 657.64,77.02 657.75,80.77 657.87,77.04 657.99,76.55 658.1,81.29 658.22,80.3 658.34,78.44 658.46,81.39 658.57,81.24 658.69,79.58 658.81,77.11 658.92,79.26 659.04,80.4 659.16,77.5 659.27,82.09 659.39,79.51 659.51,78.43 659.63,75.99 659.74,82.31 659.86,81.48 659.98,77.84 660.09,81.97 660.21,82.03 660.33,76.7 660.44,78.75 660.56,81.85 660.68,80.6 660.8,80.22 660.91,79.36 661.03,82.42 661.15,82.72 661.26,79.95 661.38,76.79 661.5,78.14 661.61,77.8 661.73,77.29 661.85,78.6 661.96,77.8 662.08,82.73 662.2,78.39 662.32,79.09 662.43,77.31 662.55,78.7 662.67,85.25 662.78,81.17 662.9,80.51 663.02,76.23 663.13,79.89 663.25,82.6 663.37,78.4 663.49,78.62 663.6,80.34 663.72,79.5 663.84,77.91 663.95,82.95 664.07,76.88 664.19,79.03 664.3,82.67 664.42,82.88 664.54,76.45 664.65,81.19 664.77,79.09 664.89,79.62 665.01,81.46 665.12,80.17 665.24,75.64 665.36,75.82 665.47,79.39 665.59,82.37 665.71,80.04 665.82,82.33 665.94,78.33 666.06,78.26 666.18,78.09 666.29,79.9 666.41,85.06 666.53,75.68 666.64,76.97 666.76,76.89 666.88,79.54 666.99,83.43 667.11,75.53 667.23,80.51 667.35,76.35 667.46,83.5 667.58,79.79 667.7,79.47 667.81,84.72 667.93,75.97 668.05,77.61 668.16,79.35 668.28,78.6 668.4,80.91 668.51,80.17 668.63,78.77 668.75,90.1 668.87,80.04 668.98,77.84 669.1,84.07 669.22,84.73 669.33,78.85 669.45,83.08 669.57,80.03 669.68,77.27 669.8,75.17 669.92,83.13 670.04,81.61 670.15,84.23 670.27,85.84 670.39,77.74 670.5,77.49 670.62,82.68 670.74,76.06 670.85,84.09 670.97,82.7 671.09,83.21 671.2,83.95 671.32,76.24 671.44,85.68 671.56,77.15 671.67,86.94 671.79,78.53 671.91,76.14 672.02,78.34 672.14,79.43 672.26,82.19 672.37,85.87 672.49,80.15 672.61,79.56 672.73,85.19 672.84,81.05 672.96,83.57 673.08,80.9 673.19,82.8 673.31,82.97 673.43,80.64 673.54,86.34 673.66,84.62 673.78,80.59 673.9,84.97 674.01,85.11 674.13,87.04 674.25,86.55 674.36,79.02 674.48,75.25 674.6,77.51 674.71,83.1 674.83,85.22 674.95,83.77 675.06,88.49 675.18,87.29 675.3,76.87 675.42,78.51 675.53,88.74 675.65,81.37 675.77,76.13 675.88,91.38 676,88.77 676.12,85.47 676.23,81.5 676.35,78.49 676.47,81.47 676.59,86.42 676.7,76.83 676.82,80.6 676.94,76.8 677.05,85.67 677.17,89.93 677.29,78.43 677.4,88.15 677.52,88.03 677.64,87.53 677.75,82.84 677.87,78.79 677.99,86.14 678.11,92.28 678.22,79.74 678.34,86.36 678.46,81.9 678.57,79.75 678.69,94.16 678.81,83.58 678.92,75.54 679.04,84.57 679.16,88.37 679.28,88.11 679.39,78.29 679.51,86.28 679.63,86.09 679.74,84.64 679.86,84.94 679.98,87.95 680.09,88.78 680.21,78.44 680.33,81.68 680.45,91.39 680.56,91.41 680.68,84.88 680.8,84.32 680.91,91.79 681.03,77.75 681.15,93.19 681.26,88.32 681.38,79.1 681.5,84.27 681.61,89.67 681.73,86.47 681.85,97.56 681.97,87.73 682.08,86.55 682.2,81.48 682.32,79.9" fill="none" stroke="#FF8C1A" stroke-width="1.3" stroke-linejoin="round" />
<polyline points="498.6,21.51 499.02,21.61 499.44,21.43 499.85,21.61 500.27,21.69 500.69,21.48 501.11,21.15 501.52,21.25 501.94,21.29 502.36,21.67 502.78,21.48 503.2,21.67 503.61,21.76 504.03,21.82 504.45,21.77 504.87,21.3 505.28,21.39 505.7,21.42 506.12,21.44 506.54,21.87 506.95,21.81 507.37,21.61 507.79,21.56 508.21,21.49 508.63,21.49 509.04,22.05 509.46,21.71 509.88,21.7 510.3,21.92 510.71,22.24 511.13,22.14 511.55,22.5 511.97,22.03 512.38,22.18 512.8,22.5 513.22,22.76 513.64,22.45 514.06,22.78 514.47,22.67 514.89,22.8 515.31,23.13 515.73,23.29 516.14,23.27 516.56,23.48 516.98,23.77 517.4,23.77 517.82,23.53 518.23,24.15 518.65,24.25 519.07,23.96 519.49,24.29 519.9,24.22 520.32,24.37 520.74,24.56 521.16,24.22 521.58,24.9 521.99,25.07 522.41,25.53 522.83,25.56 523.25,26.12 523.66,26.38 524.08,26.43 524.5,27.04 524.92,27.2 525.33,27.28 525.75,28.14 526.17,28.48 526.59,28.69 527.01,28.64 527.42,29.06 527.84,29.63 528.26,29.89 528.68,30.35 529.09,30.68 529.51,31.48 529.93,31.55 530.35,31.94 530.76,32.41 531.18,33.08 531.6,33.45 532.02,34.6 532.44,34.94 532.85,35 533.27,35.64 533.69,36.69 534.11,37.14 534.52,38.16 534.94,38.83 535.36,40.5 535.78,42.01 536.2,43.29 536.61,44.94 537.03,45.78 537.45,46.09 537.87,47.22 538.28,48.14 538.7,48.83 539.12,49.45 539.54,49.74 539.96,50.73 540.37,51.48 540.79,52.12 541.21,52.03 541.63,52.91 542.04,53.56 542.46,53.57 542.88,53.47 543.3,53.3 543.71,52.26 543.83,54.37 543.95,54.78 544.07,52.94 544.18,53.89 544.3,50.83 544.42,54.35 544.53,52.67 544.65,51.66 544.77,53.1 544.88,50.74 545,52.79 545.12,53.79 545.24,52.93 545.35,53.63 545.47,53.02 545.59,53.43 545.7,52.08 545.82,52.19 545.94,53.04 546.05,54.38 546.17,53.85 546.29,53.97 546.3,46.43 546.4,54.17 546.52,54.19 546.64,51.94 546.72,71.53 546.76,54.71 546.87,55.18 546.99,51.75 547.11,53.22 547.22,51.76 547.34,53.87 547.46,52.31 547.57,53.16 547.69,52.84 547.81,53.06 547.93,53.77 548.04,54.73 548.16,54.45 548.28,53.15 548.39,53.21 548.51,53.29 548.63,54.24 548.74,53.85 548.86,53.9 548.98,54.04 549.09,53.94 549.21,52.94 549.33,55.24 549.45,52.86 549.56,55.34 549.68,55.13 549.8,54.76 549.91,53.78 550.03,53.49 550.15,53.55 550.26,55.49 550.38,55.22 550.5,53.43 550.62,54.07 550.73,55.02 550.85,54.68 550.97,53.49 551.08,55.68 551.2,54 551.32,53.28 551.43,55.25 551.55,53.56 551.67,55.61 551.79,53.28 551.9,54.63 552.02,54.83 552.14,54.37 552.25,55.04 552.37,53.31 552.49,54.54 552.6,52.39 552.72,55.21 552.84,53.5 552.95,53.62 553.07,53.44 553.19,55.42 553.31,54.92 553.42,53.42 553.54,55.86 553.66,54.43 553.77,53.99 553.89,55.73 554.01,53.67 554.12,53.91 554.24,54.31 554.36,54.37 554.48,53.58 554.59,53.6 554.71,53.74 554.83,54.45 554.94,55.74 555.06,55.16 555.18,56.95 555.29,54 555.41,53.77 555.53,54.67 555.64,54.88 555.76,53.73 555.88,54.51 556,57.04 556.11,53.76 556.23,54.18 556.35,53.79 556.46,54.8 556.58,54.85 556.7,54.37 556.81,56.12 556.93,54.64 557.05,54.81 557.17,55.68 557.28,55.42 557.4,54.12 557.52,55.72 557.63,55.7 557.75,53.91 557.87,55.54 557.98,54.43 558.1,56.57 558.22,55.22 558.33,55.04 558.45,54.15 558.57,54.79 558.69,54.1 558.8,55.15 558.92,56.55 559.04,56.22 559.15,54.43 559.27,56.46 559.39,56.07 559.5,56.46 559.62,55.08 559.74,54.35 559.86,55.55 559.97,57.31 560.09,55.08 560.21,56.24 560.32,55.15 560.44,55.29 560.56,54.71 560.67,55.59 560.79,55.17 560.91,55.79 561.03,54.88 561.14,57 561.26,54.84 561.38,56.17 561.49,54.92 561.61,56.22 561.73,57.21 561.84,57.25 561.96,56.91 562.08,55.05 562.19,56.74 562.31,56.1 562.43,56.9 562.55,54.73 562.66,54.96 562.78,56.44 562.9,55.23 563.01,57.21 563.13,55.06 563.25,55.8 563.36,55.52 563.48,56.89 563.6,55.82 563.72,55.21 563.83,56.73 563.95,55.26 564.07,55.3 564.18,55.82 564.3,56.3 564.42,56.1 564.53,56.42 564.65,56.17 564.77,56.35 564.88,55.37 565,57.53 565.12,55.63 565.24,57.88 565.35,56.22 565.47,57.87 565.59,57.85 565.7,57.57 565.82,55.58 565.94,55.8 566.05,56.98 566.17,57.95 566.29,55.43 566.41,55.76 566.52,56.24 566.64,56.22 566.76,56.42 566.87,55.65 566.99,56.14 567.11,56.51 567.22,57.36 567.34,57.55 567.46,58.18 567.58,57.51 567.69,57.95 567.81,58.09 567.93,58.83 568.04,55.85 568.16,55.98 568.28,58.1 568.39,57.19 568.51,58 568.63,54.66 568.74,57.68 568.86,56.72 568.98,58.32 569.1,58.06 569.21,58.49 569.33,58.1 569.45,58.51 569.56,57.74 569.68,57.01 569.8,55.99 569.91,58.1 570.03,56.14 570.15,54.78 570.27,56.84 570.38,57.46 570.5,58.4 570.62,57.3 570.73,57.8 570.85,56.53 570.97,58.69 571.08,58.21 571.2,57.26 571.32,57.13 571.43,57.84 571.55,56.28 571.67,57.89 571.79,59.27 571.9,56.62 572.02,56.32 572.14,58.75 572.25,56.93 572.37,58.5 572.49,57.63 572.6,57.68 572.72,58.81 572.84,56.92 572.96,58.59 573.07,57.4 573.19,57.62 573.31,57.5 573.42,57.27 573.54,57.32 573.66,58.88 573.77,56.79 573.89,58.84 574.01,58.19 574.13,58.12 574.24,58.52 574.36,57.16 574.48,56.4 574.59,58.3 574.71,57.55 574.83,58.02 574.94,58.48 575.06,58.7 575.18,57.42 575.29,58.65 575.41,56.39 575.53,55.26 575.65,56.93 575.76,57.59 575.88,58.91 576,56.73 576.11,57.8 576.23,57.22 576.35,56.69 576.46,57.88 576.58,56.8 576.7,58.92 576.82,58.9 576.93,56.66 577.05,56.85 577.17,56.93 577.28,56.66 577.4,58.06 577.52,58.37 577.63,57.56 577.75,57.37 577.87,57.8 577.98,57.53 578.1,57.97 578.22,58.32 578.34,58.45 578.45,58.89 578.57,59.02 578.69,58.8 578.8,57.75 578.92,58.41 579.04,57.19 579.15,57.8 579.27,57.57 579.39,57.96 579.51,57.8 579.62,57.73 579.74,56.69 579.86,57.33 579.97,58.07 580.09,58.48 580.21,58.49 580.32,58.74 580.44,58.53 580.56,57.53 580.68,57 580.79,58.45 580.91,57.26 581.03,58.07 581.14,59.35 581.26,57.86 581.38,58.7 581.49,58.31 581.61,58.19 581.73,57.66 581.84,60.74 581.96,56.72 582.08,57.42 582.2,56.78 582.31,58.48 582.43,59.42 582.55,57.38 582.66,58.11 582.78,58.25 582.9,58.71 583.01,59.52 583.13,59.04 583.25,57.38 583.37,56.97 583.48,57.54 583.6,58.26 583.72,59.04 583.83,56.93 583.95,57.05 584.07,58.11 584.18,56.9 584.3,57.58 584.42,58.48 584.53,59.13 584.65,57.52 584.77,58.56 584.89,57.9 585,58.22 585.12,58.04 585.24,58.82 585.35,59.11 585.47,57.07 585.59,57.11 585.7,58.72 585.82,58.37 585.94,57.56 586.06,56.43 586.17,56.92 586.29,56.53 586.41,58.09 586.52,56.97 586.64,56.57 586.76,57.18 586.87,57.3 586.99,57.22 587.11,58.9 587.23,56.59 587.34,58.8 587.46,56.83 587.58,56.69 587.69,57.34 587.81,58.91 587.93,56.91 588.04,58.24 588.16,58.66 588.28,59.34 588.39,56.66 588.51,58.76 588.63,57.84 588.75,57.21 588.86,56.27 588.98,57.76 589.1,58.34 589.21,57.62 589.33,56.09 589.45,57.83 589.56,56.99 589.68,58.05 589.8,56.45 589.92,55.82 590.03,55.81 590.15,56.8 590.27,56.56 590.38,57.36 590.5,55.41 590.62,55.36 590.73,56.08 590.85,55.8 590.97,57.45 591.08,55.87 591.2,56.55 591.32,55.05 591.44,55.07 591.55,54.49 591.67,55.98 591.79,55.2 591.9,56.39 592.02,55.99 592.14,56.55 592.25,56.44 592.37,55.86 592.49,54.44 592.61,54.25 592.72,55.68 592.84,56.34 592.96,54.62 593.07,54.85 593.19,55.19 593.31,55.59 593.42,53.48 593.54,54.07 593.66,56.16 593.77,54.25 593.89,54.85 594.01,55.89 594.13,54.98 594.24,55.2 594.36,53.93 594.48,54.41 594.59,55.22 594.71,56.31 594.83,54.55 594.94,54.11 595.06,55.37 595.18,56.55 595.3,55.29 595.41,55.14 595.53,55.47 595.65,55.87 595.76,56.09 595.88,55.91 596,55.75 596.11,56.27 596.23,55.92 596.35,57.11 596.47,57.1 596.58,56.75 596.7,57.24 596.82,56.64 596.93,55.19 597.05,57.32 597.17,56.29 597.28,56.52 597.4,55.89 597.52,57.21 597.63,54.73 597.75,55.54 597.87,56.36 597.99,54.43 598.1,57.28 598.22,56.23 598.34,57.58 598.45,54.71 598.57,56.99 598.69,55.29 598.8,56.39 598.92,56.45 599.04,56.71 599.16,55.6 599.27,55.24 599.39,55.39 599.51,57.25 599.62,55.91 599.74,58.13 599.86,57.33 599.97,57.94 600.09,56.87 600.21,57.87 600.32,57.9 600.44,57.39 600.56,57.87 600.68,55.93 600.79,56.95 600.91,57.83 601.03,56.8 601.14,57.32 601.26,56.49 601.38,56.86 601.49,55.84 601.61,57.58 601.73,56.4 601.85,57.35 601.96,56.25 602.08,57.58 602.2,57.46 602.31,57.57 602.43,56.79 602.55,55.64 602.66,57.41 602.78,56.73 602.9,56.95 603.02,56.13 603.13,56.37 603.25,56.09 603.37,55.95 603.48,58.57 603.6,58.42 603.72,57.05 603.83,57.72 603.95,56.03 604.07,57.59 604.18,58.01 604.3,58.03 604.42,57.45 604.54,57.86 604.65,57.77 604.77,57.28 604.89,56.71 605,57.71 605.12,57.49 605.24,57.48 605.35,56.64 605.47,56.48 605.59,57.67 605.71,59.62 605.82,58.04 605.94,57.29 606.06,57.75 606.17,57.7 606.29,57.33 606.41,59.87 606.52,59.09 606.64,57.77 606.76,59.49 606.87,59.96 606.99,59 607.11,59.84 607.23,60.1 607.34,57.57 607.46,58.23 607.58,58.41 607.69,60.04 607.81,58.96 607.93,58.7 608.04,60.47 608.16,57.5 608.28,58.2 608.4,59.64 608.51,58.6 608.63,57.88 608.75,58.72 608.86,59.35 608.98,58.29 609.1,59.24 609.21,58.94 609.33,59.89 609.45,58.41 609.57,58.95 609.68,58.09 609.8,60 609.92,58.54 610.03,60.61 610.15,59.07 610.27,60.1 610.38,59.43 610.5,61.41 610.62,61.23 610.73,61 610.85,59.95 610.97,59.22 611.09,61.01 611.2,61.07 611.32,59.39 611.44,59.34 611.55,59.31 611.67,60.62 611.79,59.29 611.9,59.35 612.02,60.18 612.14,60.71 612.26,61.38 612.37,61.78 612.49,60.84 612.61,61.87 612.72,61.11 612.84,60.95 612.96,61.87 613.07,62.63 613.19,60.61 613.31,61.02 613.42,61.67 613.54,61.55 613.66,60.52 613.78,60.4 613.89,59.98 614.01,62.53 614.13,61.52 614.24,62.76 614.36,60.35 614.48,60.69 614.59,60.87 614.71,62.44 614.83,62.28 614.95,60.44 615.06,63.05 615.18,63.01 615.3,60.56 615.41,62.72 615.53,61.15 615.65,63.6 615.76,61.13 615.88,61.67 616,63.68 616.12,61.61 616.23,60.45 616.35,60.54 616.47,61.56 616.58,62.44 616.7,62.46 616.82,61.15 616.93,61.28 617.05,61.36 617.17,61.21 617.28,63 617.4,62.05 617.52,62.94 617.64,63.51 617.75,64.01 617.87,61.4 617.99,63.41 618.1,62.24 618.22,63.75 618.34,66.14 618.45,60.71 618.57,63.77 618.69,64.19 618.81,63.26 618.92,62.15 619.04,63.01 619.16,62.61 619.27,63.93 619.39,61.18 619.51,62.52 619.62,64.77 619.74,61.97 619.86,62.71 619.97,66.17 620.09,62.39 620.21,63.14 620.33,62.28 620.44,63.51 620.56,62.68 620.68,62.8 620.79,61.98 620.91,64.81 621.03,62.8 621.14,63.63 621.26,64.49 621.38,63.93 621.5,61.83 621.61,65.02 621.73,62.26 621.85,65.24 621.96,63.74 622.08,63.43 622.2,61.99 622.31,62.29 622.43,62.01 622.55,62.78 622.67,63.19 622.78,62.23 622.9,63.26 623.02,64.24 623.13,62.3 623.25,62.9 623.37,65.51 623.48,64.62 623.6,63.4 623.72,64.08 623.83,64.05 623.95,64.64 624.07,63.11 624.19,63.42 624.3,62.2 624.42,63.59 624.54,62.89 624.65,63.86 624.77,61.75 624.89,64.67 625,63.33 625.12,63.91 625.24,61.93 625.36,64.19 625.47,64.97 625.59,61.89 625.71,63.61 625.82,64.39 625.94,64.34 626.06,63.36 626.17,63.34 626.29,62.8 626.41,64.54 626.52,62.77 626.64,64.04 626.76,63.88 626.88,61.66 626.99,63.53 627.11,63.35 627.23,65.12 627.34,63.24 627.46,63.84 627.58,62.04 627.69,61.46 627.81,62.08 627.93,63.93 628.05,64.32 628.16,62.72 628.28,63.07 628.4,61.31 628.51,62.05 628.63,61.45 628.75,63.61 628.86,62.22 628.98,62.03 629.1,64.31 629.21,61.31 629.33,63.2 629.45,63.46 629.57,61.71 629.68,58.74 629.8,62.37 629.92,63.11 630.03,61 630.15,61.98 630.27,59.11 630.38,60.3 630.5,58.56 630.62,59.99 630.74,60.56 630.85,60.01 630.97,57.97 631.09,60.29 631.2,57.12 631.32,59.06 631.44,56.75 631.55,57.26 631.67,58.64 631.79,57.15 631.91,56.94 632.02,56.07 632.14,56.49 632.26,58.01 632.37,57.25 632.49,54.6 632.61,54.39 632.72,54.35 632.84,54.47 632.96,55.41 633.07,56.08 633.19,54.8 633.31,56.01 633.43,56.44 633.54,55.79 633.66,54.21 633.78,54.41 633.89,56.68 634.01,56.02 634.13,56.09 634.24,55.18 634.36,56.59 634.48,54.59 634.6,56.33 634.71,54.86 634.83,53.15 634.95,56.46 635.06,56 635.18,55.68 635.3,54.35 635.41,55.82 635.53,56.52 635.65,54.78 635.76,54.59 635.88,56.93 636,54.8 636.12,55.81 636.23,54.2 636.35,53.14 636.47,56.67 636.58,55.1 636.7,55.8 636.82,55.91 636.93,53.6 637.05,55.13 637.17,55.4 637.29,53.63 637.4,56.04 637.52,57.5 637.64,57.15 637.75,57.22 637.87,54 637.99,53.97 638.1,56.7 638.22,57.61 638.34,55.1 638.46,59.57 638.57,57.08 638.69,57.69 638.81,56.07 638.92,58.34 639.04,58.51 639.16,56.82 639.27,57.98 639.39,57.19 639.51,57.66 639.62,57.78 639.74,56.04 639.86,55.96 639.98,57.86 640.09,57.41 640.21,59.2 640.33,57.62 640.44,57.56 640.56,58.14 640.68,57.86 640.79,59.05 640.91,57.59 641.03,58.28 641.15,58.46 641.26,56.39 641.38,58.38 641.5,56.9 641.61,57.34 641.73,62.47 641.85,58.61 641.96,57.92 642.08,58.42 642.2,59.08 642.31,56.88 642.43,59.5 642.55,54.86 642.67,59.99 642.78,58.22 642.9,59.36 643.02,57.98 643.13,56.98 643.25,58.13 643.37,59.83 643.48,59.64 643.6,58.56 643.72,57.06 643.84,59.64 643.95,58.08 644.07,59.83 644.19,58.33 644.3,58.96 644.42,57.58 644.54,60.55 644.65,57.01 644.77,58.32 644.89,58.88 645.01,58.87 645.12,60.69 645.24,59.19 645.36,58.45 645.47,60.61 645.59,61.11 645.71,58.73 645.82,57.15 645.94,61.22 646.06,61.08 646.17,58.84 646.29,57.18 646.41,60.61 646.53,60.97 646.64,59.57 646.76,61.18 646.88,58.74 646.99,57.22 647.11,56.57 647.23,59.02 647.34,58.08 647.46,61.26 647.58,57.91 647.7,58.92 647.81,57.4 647.93,61.7 648.05,57.67 648.16,61.46 648.28,59.62 648.4,61.62 648.51,58.27 648.63,59.56 648.75,60.26 648.86,58.01 648.98,61.9 649.1,57.91 649.22,60.72 649.33,61.33 649.45,60 649.57,59.75 649.68,61.45 649.8,58.2 649.92,58.5 650.03,58.7 650.15,59.58 650.27,61.07 650.39,61.85 650.5,62.03 650.62,59.55 650.74,58.51 650.85,57.86 650.97,59.43 651.09,62.29 651.2,61.69 651.32,60.08 651.44,60.74 651.56,60.52 651.67,60.31 651.79,59.77 651.91,62.13 652.02,58.96 652.14,61.98 652.26,59.88 652.37,63.86 652.49,60.68 652.61,61.9 652.72,60.59 652.84,61.62 652.96,60.18 653.08,61.18 653.19,63.36 653.31,60.69 653.43,60.58 653.54,62.14 653.66,59.71 653.78,60.77 653.89,61.64 654.01,60.59 654.13,63.35 654.25,62.77 654.36,60.82 654.48,62.34 654.6,61.01 654.71,63.85 654.83,63.27 654.95,61.16 655.06,61.26 655.18,61.78 655.3,63.33 655.41,62.74 655.53,62.09 655.65,60.11 655.77,63.92 655.88,60.26 656,63.61 656.12,63.96 656.23,64.23 656.35,64.08 656.47,63.15 656.58,60.95 656.7,61.45 656.82,63.66 656.94,64.69 657.05,61.77 657.17,60.61 657.29,61.67 657.4,60.74 657.52,63.13 657.64,60.4 657.75,63.49 657.87,61.35 657.99,62.08 658.1,64.04 658.22,63.79 658.34,60.97 658.46,64.06 658.57,61.83 658.69,63.71 658.81,61.2 658.92,64.13 659.04,62.36 659.16,65.81 659.27,65.19 659.39,66.1 659.51,66.51 659.63,63.08 659.74,65.67 659.86,64.62 659.98,60.45 660.09,60.53 660.21,64.43 660.33,64.37 660.44,64.33 660.56,60.15 660.68,62.6 660.8,62.13 660.91,64.75 661.03,61.84 661.15,60.82 661.26,62.7 661.38,63.9 661.5,61.82 661.61,61.71 661.73,58.78 661.85,62.1 661.96,61.16 662.08,64.89 662.2,63.98 662.32,62.6 662.43,64.43 662.55,64.51 662.67,62.17 662.78,63.26 662.9,58.6 663.02,60.71 663.13,62.65 663.25,64.21 663.37,60.47 663.49,57.42 663.6,62.52 663.72,64.04 663.84,58.25 663.95,56.53 664.07,61.86 664.19,60.73 664.3,59.38 664.42,60.15 664.54,62.96 664.65,61.19 664.77,58.44 664.89,62.16 665.01,62.37 665.12,55.47 665.24,59.55 665.36,58.79 665.47,61.51 665.59,60.49 665.71,62.69 665.82,60.36 665.94,58.66 666.06,56.9 666.18,55.08 666.29,61.72 666.41,55.38 666.53,60.49 666.64,52.3 666.76,55.18 666.88,60.77 666.99,60.63 667.11,55.94 667.23,55.98 667.35,60.24 667.46,58.11 667.58,59.43 667.7,56.74 667.81,53.69 667.93,57.13 668.05,62.31 668.16,53.84 668.28,51.08 668.4,59.79 668.51,58.82 668.63,54.05 668.75,55.44 668.87,55.3 668.98,53.94 669.1,60.31 669.22,55.42 669.33,59.7 669.45,54.26 669.57,54.05 669.68,61.54 669.8,53.47 669.92,54.15 670.04,56.82 670.15,51.82 670.27,58.01 670.39,55.84 670.5,61.14 670.62,49.2 670.74,53.96 670.85,55.42 670.97,56.81 671.09,56.85 671.2,57.75 671.32,55.8 671.44,55.44 671.56,51.03 671.67,59.04 671.79,58.28 671.91,59.68 672.02,57.48 672.14,50.99 672.26,54.34 672.37,53.04 672.49,55.04 672.61,52.48 672.73,59.76 672.84,57.47 672.96,44.22 673.08,56.94 673.19,60.19 673.31,60.49 673.43,52.13 673.54,57.68 673.66,50.04 673.78,57.26 673.9,59.53 674.01,52.85 674.13,52.47 674.25,54.36 674.36,55.5 674.48,53.48 674.6,55.05 674.71,59.38 674.83,54.16 674.95,49.49 675.06,51.94 675.18,43.24 675.3,55.29 675.42,56.8 675.53,48.94 675.65,49.75 675.77,53.42 675.88,58.83 676,56.76 676.12,58.05 676.23,52.67 676.35,51.71 676.47,61.45 676.59,54.66 676.7,52.02 676.82,56.14 676.94,55.6 677.05,47.83 677.17,49.31 677.29,54.2 677.4,51 677.52,59.04 677.64,53.84 677.75,47.95 677.87,50.75 677.99,48.37 678.11,51.45 678.22,50.32 678.34,51.27 678.46,50.48 678.57,46.25 678.69,52.81 678.81,50.26 678.92,51.96 679.04,56.75 679.16,56.17 679.28,50.93 679.39,56.15 679.51,50.18 679.63,62.9 679.74,50.8 679.86,48.63 679.98,47.25 680.09,47.26 680.21,58.45 680.33,55.82 680.45,53.41 680.56,57.77 680.68,48.67 680.8,55.08 680.91,49.82 681.03,58.66 681.15,57.06 681.26,55.28 681.38,54.72 681.5,55.33 681.61,60.21 681.73,50.76 681.85,52.29 681.97,55.26 682.08,47.61 682.2,45.51 682.32,49.2" fill="none" stroke="#1E8C1E" stroke-width="1.3" stroke-linejoin="round" />
<polyline points="498.6,27.91 499.02,27.73 499.44,27.87 499.85,27.74 500.27,27.75 500.69,28.15 501.11,28.21 501.52,27.68 501.94,28.1 502.36,28.14 502.78,27.65 503.2,28.03 503.61,27.81 504.03,28.08 504.45,27.99 504.87,28.35 505.28,28.05 505.7,27.91 506.12,28.17 506.54,28.05 506.95,28.12 507.37,28.56 507.79,28.11 508.21,28.25 508.63,28.47 509.04,28.68 509.46,28.14 509.88,28.45 510.3,28.41 510.71,28.42 511.13,28.65 511.55,28.63 511.97,29.11 512.38,28.95 512.8,29.31 513.22,29.1 513.64,29.26 514.06,29.91 514.47,30 514.89,30.07 515.31,29.69 515.73,30.16 516.14,30.15 516.56,30.49 516.98,30.48 517.4,30.68 517.82,30.82 518.23,30.79 518.65,30.91 519.07,30.81 519.49,31.08 519.9,31.03 520.32,31.2 520.74,31.23 521.16,31.57 521.58,32.09 521.99,32 522.41,32.31 522.83,32.73 523.25,33.34 523.66,33.63 524.08,34.35 524.5,34.31 524.92,34.87 525.33,35.45 525.75,35.98 526.17,35.83 526.59,36.12 527.01,37.11 527.42,37.01 527.84,37.66 528.26,38.22 528.68,38.5 529.09,38.57 529.51,38.88 529.93,39.82 530.35,39.82 530.76,40.58 531.18,40.51 531.6,41.16 532.02,41.17 532.44,41.48 532.85,42.19 533.27,42.24 533.69,43.5 534.11,44.45 534.52,44.89 534.94,46.06 535.36,46.75 535.78,47.4 536.2,48.05 536.61,49.15 537.03,50.02 537.45,50.26 537.87,51.43 538.28,51.79 538.7,52.62 539.12,53.77 539.54,54.5 539.96,55.26 540.37,55.97 540.79,56.24 541.21,56.51 541.63,56.72 542.04,56.75 542.46,57.29 542.88,57.58 543.3,57.63 543.71,59.09 543.83,58.9 543.95,56.23 544.07,58.15 544.18,58.1 544.3,60.35 544.42,58.78 544.53,58.18 544.65,60.52 544.77,58.18 544.88,58.18 545,60.55 545.12,58.29 545.24,58.99 545.35,57.94 545.47,59.73 545.59,57.64 545.7,57.35 545.82,62.47 545.94,62.45 546.05,57.58 546.17,54.97 546.29,61.45 546.4,59.57 546.47,71.97 546.52,58.2 546.64,61.18 546.76,60.8 546.87,61.52 546.99,60.82 547.06,69.43 547.11,58.26 547.22,61.48 547.34,60.63 547.46,56.81 547.57,63.72 547.69,58.89 547.81,57.64 547.93,60.95 548.04,61.49 548.16,57.67 548.28,61.16 548.39,61.32 548.51,60 548.63,58.88 548.74,61.24 548.86,60.32 548.98,59.98 549.09,60.55 549.21,59.47 549.33,60.04 549.45,60.96 549.56,60.81 549.68,59.09 549.8,60.63 549.91,59.68 550.03,60.51 550.15,60.69 550.26,60.77 550.38,60.41 550.5,60.46 550.62,59.74 550.73,59.25 550.85,60.49 550.97,59.19 551.08,59.71 551.2,59.96 551.32,61 551.43,60.91 551.55,61.07 551.67,61.75 551.79,60.03 551.9,59.52 552.02,59.62 552.14,61.53 552.25,60.24 552.37,60.94 552.49,60.44 552.6,61.44 552.72,60.86 552.84,61.21 552.95,60.74 553.07,61.74 553.19,59.73 553.31,59.6 553.42,60.66 553.54,61.54 553.66,61.15 553.77,61.65 553.89,61.98 554.01,62.16 554.12,60.05 554.24,61.52 554.36,61.45 554.48,60.83 554.59,61.91 554.71,62.11 554.83,60.53 554.94,62.27 555.06,61.49 555.18,60.41 555.29,60.38 555.41,61.39 555.53,61.23 555.64,61.46 555.76,61.36 555.88,61.18 556,62.45 556.11,61.51 556.23,60.15 556.35,60.27 556.46,62.01 556.58,62.4 556.7,60.96 556.81,60.63 556.93,60.81 557.05,62.53 557.17,62.81 557.28,62.07 557.4,62.59 557.52,61.29 557.63,62.57 557.75,61.09 557.87,60.36 557.98,59.93 558.1,61.58 558.22,62.69 558.33,61.05 558.45,61.5 558.57,62.38 558.69,62.38 558.8,61.04 558.92,62.1 559.04,62.16 559.15,62.9 559.27,60.52 559.39,61.14 559.5,61.31 559.62,61.38 559.74,61.91 559.86,60.81 559.97,62.99 560.09,60.79 560.21,62.09 560.32,62.8 560.44,62.78 560.56,62.49 560.67,61.49 560.79,62.58 560.91,62.28 561.03,61.83 561.14,62.91 561.26,62.41 561.38,62.49 561.49,61.39 561.61,60.82 561.73,61.9 561.84,61.28 561.96,62.05 562.08,61.63 562.19,62.51 562.31,61.01 562.43,63 562.55,61.7 562.66,61.07 562.78,63.02 562.9,63 563.01,61.81 563.13,61.3 563.25,61.41 563.36,62.62 563.48,62.47 563.6,63.01 563.72,62.25 563.83,63.82 563.95,62.68 564.07,63.31 564.18,61.31 564.3,63.17 564.42,60.88 564.53,60.06 564.65,62.95 564.77,61.94 564.88,62.17 565,61.84 565.12,62 565.24,62.24 565.35,63.76 565.47,63.14 565.59,62.27 565.7,63.63 565.82,62.44 565.94,61.76 566.05,63.84 566.17,63.81 566.29,62.27 566.41,62.73 566.52,63.01 566.64,63.09 566.76,62.25 566.87,62.3 566.99,63.6 567.11,61.97 567.22,63.69 567.34,63.42 567.46,63.3 567.58,62.33 567.69,62.88 567.81,63.27 567.93,62.5 568.04,63.97 568.16,62.49 568.28,62.49 568.39,64.14 568.51,64.03 568.63,63.03 568.74,63.91 568.86,64.52 568.98,62.22 569.1,63.61 569.21,63.08 569.33,62.04 569.45,63.88 569.56,63.4 569.68,61.89 569.8,62.96 569.91,63.35 570.03,64.26 570.15,64.7 570.27,63.07 570.38,63.31 570.5,62.44 570.62,62.73 570.73,64.75 570.85,64.14 570.97,62.41 571.08,62.58 571.2,64.58 571.32,63.34 571.43,63.05 571.55,64.07 571.67,62.5 571.79,63.85 571.9,65.22 572.02,64.85 572.14,64.64 572.25,63.21 572.37,63.97 572.49,64.3 572.6,63.1 572.72,64.67 572.84,63.23 572.96,64.19 573.07,63.59 573.19,65.21 573.31,63.12 573.42,64.01 573.54,64.7 573.66,64.2 573.77,66.3 573.89,65.54 574.01,64.12 574.13,63.76 574.24,62.79 574.36,64.87 574.48,64.95 574.59,64.48 574.71,65.29 574.83,64.7 574.94,64.21 575.06,64.67 575.18,64.78 575.29,63.81 575.41,65.27 575.53,62.93 575.65,66.87 575.76,66.56 575.88,63.82 576,65.06 576.11,64.34 576.23,63.16 576.35,65.56 576.46,64.03 576.58,65.45 576.7,63.77 576.82,64.82 576.93,63.23 577.05,63.75 577.17,63.51 577.28,63.29 577.4,64.68 577.52,63.71 577.63,65.1 577.75,63.9 577.87,63.95 577.98,64.56 578.1,64.08 578.22,63.86 578.34,65.66 578.45,63.67 578.57,63.59 578.69,64.76 578.8,64.01 578.92,65.33 579.04,63.22 579.15,65.26 579.27,66.53 579.39,64.33 579.51,66.06 579.62,63.49 579.74,64.6 579.86,64.03 579.97,64.02 580.09,65.66 580.21,65.97 580.32,64.39 580.44,65.68 580.56,66 580.68,65.65 580.79,64.6 580.91,64.23 581.03,65.36 581.14,64.02 581.26,64.72 581.38,65.79 581.49,65.11 581.61,66.17 581.73,64.91 581.84,64.42 581.96,64.68 582.08,65.86 582.2,63.77 582.31,66.22 582.43,66.04 582.55,64.55 582.66,63.86 582.78,64 582.9,65.38 583.01,64.07 583.13,65.2 583.25,65.4 583.37,64.01 583.48,63.97 583.6,66.23 583.72,65.69 583.83,63.96 583.95,65.73 584.07,65.54 584.18,64.46 584.3,66.19 584.42,66.48 584.53,64.4 584.65,63.82 584.77,64.09 584.89,66.01 585,65.19 585.12,64.98 585.24,64.14 585.35,65.18 585.47,64.25 585.59,65.77 585.7,66.39 585.82,64.99 585.94,66.93 586.06,64.33 586.17,63.76 586.29,64.78 586.41,66.36 586.52,65.33 586.64,66.14 586.76,65.72 586.87,65.26 586.99,66.26 587.11,64.68 587.23,63.91 587.34,65.7 587.46,64.32 587.58,64.99 587.69,64.87 587.81,65.44 587.93,63.93 588.04,65.09 588.16,63.84 588.28,64.71 588.39,64.94 588.51,65.84 588.63,63.65 588.75,65.22 588.86,65.09 588.98,65.1 589.1,65.89 589.21,64.9 589.33,64.01 589.45,63.79 589.56,66.22 589.68,64.81 589.8,65.54 589.92,63.28 590.03,65.28 590.15,63.86 590.27,64.54 590.38,63.79 590.5,65.23 590.62,65.41 590.73,63.7 590.85,65.4 590.97,65.5 591.08,65.58 591.2,66.04 591.32,65.63 591.44,64.23 591.55,64.53 591.67,66.23 591.79,64.38 591.9,64.92 592.02,65.61 592.14,63.61 592.25,63.75 592.37,63.5 592.49,64.45 592.61,66.08 592.72,65.75 592.84,63.95 592.96,66.09 593.07,64.74 593.19,65.93 593.31,63.48 593.42,65.88 593.54,65.91 593.66,64.76 593.77,63.67 593.89,63.57 594.01,65.34 594.13,64.98 594.24,66 594.36,64.27 594.48,64.79 594.59,64.89 594.71,64.92 594.83,65.88 594.94,63.82 595.06,65.97 595.18,64.11 595.3,65.76 595.41,66.38 595.53,65.38 595.65,64.97 595.76,64.31 595.88,64.64 596,64.28 596.11,65.36 596.23,64.92 596.35,65.21 596.47,65.76 596.58,64.96 596.7,64.01 596.82,64.32 596.93,63.92 597.05,66.41 597.17,64.66 597.28,64.92 597.4,64 597.52,65.44 597.63,64.3 597.75,65.32 597.87,65.34 597.99,64.42 598.1,66.74 598.22,65.8 598.34,65.87 598.45,65.35 598.57,65.71 598.69,64.9 598.8,66.13 598.92,65.85 599.04,65.12 599.16,65.33 599.27,66.43 599.39,65.27 599.51,66.87 599.62,66.15 599.74,64.4 599.86,64.96 599.97,64.68 600.09,65.88 600.21,66.85 600.32,66.1 600.44,64.58 600.56,66.69 600.68,67.18 600.79,65.04 600.91,66.76 601.03,66.16 601.14,66.04 601.26,65.37 601.38,67.08 601.49,65.51 601.61,65.13 601.73,67.3 601.85,66.16 601.96,64.95 602.08,66.2 602.2,64.8 602.31,65.8 602.43,67.45 602.55,65.94 602.66,67.3 602.78,66.14 602.9,65.94 603.02,64.59 603.13,66 603.25,66.72 603.37,67.25 603.48,65.76 603.6,65.32 603.72,65.05 603.83,67.35 603.95,66.79 604.07,65.08 604.18,65.25 604.3,67.47 604.42,66.64 604.54,67.33 604.65,66.73 604.77,65.73 604.89,66.77 605,67.24 605.12,65.87 605.24,67.73 605.35,66.72 605.47,67.37 605.59,67.49 605.71,66.28 605.82,65.86 605.94,66.56 606.06,66.3 606.17,68.15 606.29,65.62 606.41,66.54 606.52,65.55 606.64,67.74 606.76,65.33 606.87,65.32 606.99,67.96 607.11,67.48 607.23,66.62 607.34,65.89 607.46,66.92 607.58,67.25 607.69,66.84 607.81,67.08 607.93,66.99 608.04,65.92 608.16,67.08 608.28,66.16 608.4,67.25 608.51,66.54 608.63,67.4 608.75,68.17 608.86,67.18 608.98,68.69 609.1,68.03 609.21,68.54 609.33,68.49 609.45,69.02 609.57,67.61 609.68,67.57 609.8,68.92 609.92,66.25 610.03,67.62 610.15,69.12 610.27,68.34 610.38,69.02 610.5,67.86 610.62,68.59 610.73,68.88 610.85,67.83 610.97,68.81 611.09,66.96 611.2,65.8 611.32,67.14 611.44,68.15 611.55,68.61 611.67,69.18 611.79,68.86 611.9,68.55 612.02,67.33 612.14,67.55 612.26,67.18 612.37,68.08 612.49,69.97 612.61,67.81 612.72,67.45 612.84,66.81 612.96,67.6 613.07,69.94 613.19,67.6 613.31,69.46 613.42,66.86 613.54,68.57 613.66,69.73 613.78,68 613.89,69.75 614.01,68.2 614.13,71.6 614.24,67.71 614.36,68.86 614.48,68.36 614.59,68.98 614.71,68.11 614.83,70.43 614.95,69.44 615.06,70.25 615.18,69.28 615.3,69.1 615.41,69.53 615.53,69.12 615.65,69.5 615.76,70.04 615.88,68.75 616,68.69 616.12,71.36 616.23,70.11 616.35,69.89 616.47,68.74 616.58,68.29 616.7,69.39 616.82,70.68 616.93,67.38 617.05,68.9 617.17,69.42 617.28,67.47 617.4,69.71 617.52,70.59 617.64,69.35 617.75,67.8 617.87,71.03 617.99,71.08 618.1,68.04 618.22,70.96 618.34,70.07 618.45,70.11 618.57,70.72 618.69,70.9 618.81,71.08 618.92,69.53 619.04,69.38 619.16,69.48 619.27,71.02 619.39,69.5 619.51,70.57 619.62,68.06 619.74,68.84 619.86,70.01 619.97,70.11 620.09,68.8 620.21,69.77 620.33,70.2 620.44,68.83 620.56,69.81 620.68,71.46 620.79,69.46 620.91,70.71 621.03,71.25 621.14,69.81 621.26,68.44 621.38,70.43 621.5,71.54 621.61,68.97 621.73,69.08 621.85,70.95 621.96,71.05 622.08,69.44 622.2,71.43 622.31,70.07 622.43,70 622.55,71.13 622.67,69.51 622.78,68.54 622.9,68.65 623.02,69.32 623.13,71.46 623.25,68.66 623.37,69.81 623.48,70.94 623.6,68.69 623.72,71.52 623.83,69.01 623.95,70.87 624.07,68.55 624.19,71.89 624.3,70.73 624.42,68.23 624.54,71.51 624.65,70.87 624.77,68.24 624.89,68.33 625,70.52 625.12,69.58 625.24,70.08 625.36,70.41 625.47,67.97 625.59,69.48 625.71,70.63 625.82,67.71 625.94,67.86 626.06,70.83 626.17,71.01 626.29,70.18 626.41,67.56 626.52,67.6 626.64,66.72 626.76,69.5 626.88,68.48 626.99,69.97 627.11,67 627.23,69.53 627.34,70.39 627.46,68.68 627.58,69.44 627.69,68.81 627.81,68.95 627.93,68.74 628.05,69.89 628.16,68.66 628.28,68.48 628.4,68.97 628.51,68.76 628.63,68.48 628.75,68.54 628.86,67.48 628.98,64.71 629.1,69.48 629.21,68.92 629.33,66.82 629.45,66.63 629.57,69.78 629.68,69.53 629.8,68.15 629.92,66.76 630.03,67.18 630.15,65.8 630.27,67.83 630.38,68.59 630.5,69.53 630.62,66.75 630.74,65.89 630.85,66.75 630.97,67.04 631.09,68.14 631.2,67.28 631.32,68.49 631.44,68.8 631.55,67.5 631.67,66.58 631.79,66.3 631.91,65.73 632.02,68.16 632.14,65.48 632.26,67.46 632.37,66.19 632.49,67.58 632.61,65.79 632.72,68.56 632.84,65.99 632.96,67.33 633.07,67.26 633.19,68.62 633.31,66.67 633.43,65.32 633.54,67.32 633.66,66.78 633.78,67.25 633.89,67.3 634.01,68.55 634.13,68.16 634.24,69.11 634.36,67.66 634.48,68.67 634.6,68.99 634.71,68.8 634.83,68.8 634.95,67.81 635.06,68.52 635.18,66.44 635.3,69.77 635.41,66.42 635.53,68.57 635.65,67.36 635.76,67.92 635.88,67.87 636,69.77 636.12,68.59 636.23,70.96 636.35,67.79 636.47,67.82 636.58,67.33 636.7,70.02 636.82,69.38 636.93,69.78 637.05,69.38 637.17,67.08 637.29,69.88 637.4,65.56 637.52,67.1 637.64,67.73 637.75,66.63 637.87,69.43 637.99,69.99 638.1,70.39 638.22,69.18 638.34,67.72 638.46,68.57 638.57,69.42 638.69,68.2 638.81,67.95 638.92,68.18 639.04,69 639.16,67.76 639.27,69.72 639.39,70.29 639.51,71.28 639.62,69.29 639.74,68.98 639.86,67.38 639.98,68.99 640.09,67.78 640.21,68.06 640.33,67.41 640.44,69.97 640.56,68.91 640.68,68.51 640.79,68.26 640.91,70.51 641.03,69.03 641.15,69.5 641.26,69.19 641.38,70.74 641.5,68.24 641.61,70.85 641.73,68.96 641.85,69.32 641.96,69.06 642.08,70.57 642.2,70.28 642.31,69.02 642.43,71.79 642.55,68.25 642.67,69.85 642.78,72.23 642.9,69.72 643.02,71.09 643.13,71.92 643.25,71.39 643.37,69.07 643.48,69.31 643.6,70.34 643.72,68.93 643.84,67.73 643.95,72.64 644.07,71.02 644.19,68.92 644.3,71.43 644.42,71.28 644.54,68.66 644.65,72.58 644.77,69.34 644.89,69.22 645.01,71.47 645.12,69.43 645.24,70.32 645.36,71.31 645.47,70.47 645.59,72.17 645.71,72.31 645.82,69.87 645.94,68.97 646.06,69.35 646.17,72.41 646.29,71.53 646.41,73.18 646.53,70.95 646.64,69.79 646.76,72.31 646.88,69.62 646.99,72.87 647.11,70.74 647.23,67.74 647.34,70.9 647.46,73.85 647.58,73.01 647.7,70.28 647.81,69.98 647.93,71.35 648.05,70.75 648.16,74.17 648.28,72.8 648.4,73.4 648.51,71.41 648.63,70.03 648.75,70.09 648.86,72.88 648.98,70.53 649.1,70.57 649.22,72.9 649.33,72.33 649.45,73.84 649.57,74.14 649.68,73.24 649.8,70.66 649.92,72.26 650.03,73.09 650.15,73.95 650.27,69.41 650.39,74.38 650.5,74.4 650.62,71.34 650.74,71.71 650.85,70.86 650.97,72.86 651.09,73.92 651.2,73.72 651.32,73.21 651.44,72.2 651.56,74 651.67,71.59 651.79,71.68 651.91,72.99 652.02,71.98 652.14,72.4 652.26,71.7 652.37,72.47 652.49,72.74 652.61,70.72 652.72,71.18 652.84,71.7 652.96,72.44 653.08,70.48 653.19,71.74 653.31,73.17 653.43,72.43 653.54,72.58 653.66,73.66 653.78,72.29 653.89,68.45 654.01,72.3 654.13,74.48 654.25,71.28 654.36,71.16 654.48,74.7 654.6,72.92 654.71,73.85 654.83,72.54 654.95,71.1 655.06,74.54 655.18,72.89 655.3,73.59 655.41,71.7 655.53,75.35 655.65,75.28 655.77,72.14 655.88,73.69 656,73.8 656.12,71.03 656.23,72.55 656.35,74.06 656.47,72.48 656.58,73.25 656.7,74.61 656.82,72.39 656.94,69.17 657.05,72.16 657.17,75.61 657.29,74.24 657.4,71.44 657.52,73.81 657.64,74.6 657.75,75.26 657.87,74.65 657.99,73.69 658.1,73.88 658.22,74.27 658.34,71.61 658.46,75.19 658.57,74.48 658.69,71.82 658.81,72.04 658.92,73.87 659.04,75.34 659.16,71.54 659.27,73.24 659.39,73.36 659.51,73.99 659.63,71.51 659.74,72.91 659.86,70.81 659.98,75.07 660.09,71.11 660.21,75.33 660.33,75 660.44,69.91 660.56,68.66 660.68,71.21 660.8,70.34 660.91,70.09 661.03,73.78 661.15,72.84 661.26,70.11 661.38,70.99 661.5,71.04 661.61,72.31 661.73,73.41 661.85,69.31 661.96,74.64 662.08,71.85 662.2,72.95 662.32,72.94 662.43,73.29 662.55,73.02 662.67,73.84 662.78,74.14 662.9,71.29 663.02,71.12 663.13,72.69 663.25,69.09 663.37,68.59 663.49,72.92 663.6,73.95 663.72,74.59 663.84,68.21 663.95,72.47 664.07,72.5 664.19,73.87 664.3,73.39 664.42,67.85 664.54,72.28 664.65,71.32 664.77,71.35 664.89,72.11 665.01,72.2 665.12,71.37 665.24,73.53 665.36,72.36 665.47,70.65 665.59,66.1 665.71,67.62 665.82,71.21 665.94,71.74 666.06,72.07 666.18,67.44 666.29,70.01 666.41,68.55 666.53,73.66 666.64,69.83 666.76,65.46 666.88,71.46 666.99,70 667.11,73.04 667.23,71.64 667.35,69.17 667.46,66.45 667.58,73.19 667.7,73.49 667.81,65.6 667.93,67.95 668.05,71.78 668.16,70.53 668.28,73.83 668.4,70.01 668.51,66.18 668.63,68.3 668.75,69.71 668.87,73.59 668.98,69.22 669.1,71.69 669.22,70.7 669.33,71.33 669.45,70.19 669.57,70.95 669.68,69.12 669.8,73.29 669.92,71.09 670.04,64.66 670.15,67.1 670.27,73.1 670.39,64.86 670.5,67.65 670.62,68.48 670.74,67.44 670.85,65.28 670.97,72.11 671.09,68.05 671.2,65.14 671.32,66.97 671.44,66.86 671.56,65.62 671.67,64.54 671.79,71.36 671.91,67.82 672.02,61.75 672.14,69.67 672.26,66.22 672.37,69.48 672.49,72.53 672.61,65.15 672.73,73.52 672.84,70.25 672.96,67.79 673.08,70.87 673.19,74.54 673.31,70.96 673.43,71.03 673.54,70.18 673.66,70.82 673.78,65.44 673.9,65.65 674.01,71.81 674.13,63.51 674.25,73.09 674.36,63.45 674.48,65.23 674.6,65.12 674.71,68.93 674.83,66.72 674.95,77.19 675.06,71.53 675.18,65.52 675.3,65.42 675.42,69.95 675.53,64.09 675.65,64.46 675.77,65.15 675.88,72.23 676,74.66 676.12,67.29 676.23,73.86 676.35,68.21 676.47,66.47 676.59,73.89 676.7,66.65 676.82,57.9 676.94,70.56 677.05,69.61 677.17,70.95 677.29,71.64 677.4,68.88 677.52,70.22 677.64,69.99 677.75,63.62 677.87,64.16 677.99,63.2 678.11,74.6 678.22,64.68 678.34,65.15 678.46,66.09 678.57,61.39 678.69,66.82 678.81,66.3 678.92,72.11 679.04,62.46 679.16,69.91 679.28,64.13 679.39,64.95 679.51,69.05 679.63,72.57 679.74,71.3 679.86,65.39 679.98,67.54 680.09,71 680.21,69.76 680.33,66.46 680.45,73.53 680.56,65.25 680.68,69.06 680.8,71.27 680.91,54.54 681.03,71 681.15,65.11 681.26,73.5 681.38,62 681.5,67.99 681.61,65.02 681.73,64.25 681.85,64.38 681.97,74 682.08,67.13 682.2,63.04 682.32,66.44" fill="none" stroke="#1C1CA8" stroke-width="1.3" stroke-linejoin="round" />
</g>
<rect x="498.6" y="7.5" width="183.8" height="134.9" fill="none" stroke="#151515" stroke-width="1.3"/>
<line x1="502.3" y1="94" x2="517.9" y2="94" stroke="#1E8C1E" stroke-width="1.6" />
<text transform="translate(519.6,96.8) scale(0.87,1)" font-size="8.4" text-anchor="start" fill="#222" font-weight="normal" >Trees</text>
<line x1="502.3" y1="102.95" x2="517.9" y2="102.95" stroke="#1C1CA8" stroke-width="1.6" />
<text transform="translate(519.6,105.75) scale(0.87,1)" font-size="8.4" text-anchor="start" fill="#222" font-weight="normal" >Cones</text>
<line x1="502.3" y1="111.9" x2="517.9" y2="111.9" stroke="#8E238E" stroke-width="1.6" />
<text transform="translate(519.6,114.7) scale(0.87,1)" font-size="8.4" text-anchor="start" fill="#222" font-weight="normal" >Cylinders</text>
<line x1="502.3" y1="120.85" x2="517.9" y2="120.85" stroke="#FF9A33" stroke-width="1.6" />
<text transform="translate(519.6,123.65) scale(0.87,1)" font-size="8.4" text-anchor="start" fill="#222" font-weight="normal" >Flat surface</text>
<text x="466.4" y="192.6" font-size="16.5" text-anchor="start" fill="#000" font-weight="bold" >e</text>
<rect x="499.4" y="176.4" width="184" height="135.9" fill="none" stroke="#151515" stroke-width="1.3"/>
<line x1="496.4" y1="312.3" x2="499.4" y2="312.3" stroke="#1a1a1a" stroke-width="1.0" />
<text transform="translate(494.8,314.8) scale(0.89,1)" font-size="9.2" text-anchor="end" fill="#222" font-weight="normal" >20</text>
<line x1="496.4" y1="294.3" x2="499.4" y2="294.3" stroke="#1a1a1a" stroke-width="1.0" />
<text transform="translate(494.8,296.8) scale(0.89,1)" font-size="9.2" text-anchor="end" fill="#222" font-weight="normal" >22</text>
<line x1="496.4" y1="276.3" x2="499.4" y2="276.3" stroke="#1a1a1a" stroke-width="1.0" />
<text transform="translate(494.8,278.8) scale(0.89,1)" font-size="9.2" text-anchor="end" fill="#222" font-weight="normal" >24</text>
<line x1="496.4" y1="258.3" x2="499.4" y2="258.3" stroke="#1a1a1a" stroke-width="1.0" />
<text transform="translate(494.8,260.8) scale(0.89,1)" font-size="9.2" text-anchor="end" fill="#222" font-weight="normal" >26</text>
<line x1="496.4" y1="240.3" x2="499.4" y2="240.3" stroke="#1a1a1a" stroke-width="1.0" />
<text transform="translate(494.8,242.8) scale(0.89,1)" font-size="9.2" text-anchor="end" fill="#222" font-weight="normal" >28</text>
<line x1="496.4" y1="222.3" x2="499.4" y2="222.3" stroke="#1a1a1a" stroke-width="1.0" />
<text transform="translate(494.8,224.8) scale(0.89,1)" font-size="9.2" text-anchor="end" fill="#222" font-weight="normal" >30</text>
<line x1="496.4" y1="204.3" x2="499.4" y2="204.3" stroke="#1a1a1a" stroke-width="1.0" />
<text transform="translate(494.8,206.8) scale(0.89,1)" font-size="9.2" text-anchor="end" fill="#222" font-weight="normal" >32</text>
<line x1="496.4" y1="186.3" x2="499.4" y2="186.3" stroke="#1a1a1a" stroke-width="1.0" />
<text transform="translate(494.8,188.8) scale(0.89,1)" font-size="9.2" text-anchor="end" fill="#222" font-weight="normal" >34</text>
<line x1="497.7" y1="303.3" x2="499.4" y2="303.3" stroke="#1a1a1a" stroke-width="1.0" />
<line x1="497.7" y1="285.3" x2="499.4" y2="285.3" stroke="#1a1a1a" stroke-width="1.0" />
<line x1="497.7" y1="267.3" x2="499.4" y2="267.3" stroke="#1a1a1a" stroke-width="1.0" />
<line x1="497.7" y1="249.3" x2="499.4" y2="249.3" stroke="#1a1a1a" stroke-width="1.0" />
<line x1="497.7" y1="231.3" x2="499.4" y2="231.3" stroke="#1a1a1a" stroke-width="1.0" />
<line x1="497.7" y1="213.3" x2="499.4" y2="213.3" stroke="#1a1a1a" stroke-width="1.0" />
<line x1="497.7" y1="195.3" x2="499.4" y2="195.3" stroke="#1a1a1a" stroke-width="1.0" />
<line x1="517.3" y1="312.3" x2="517.3" y2="315.3" stroke="#1a1a1a" stroke-width="1.0" />
<text transform="translate(517.3,323.5) scale(0.89,1)" font-size="9.2" text-anchor="middle" fill="#222" font-weight="normal" >0</text>
<line x1="554.1" y1="312.3" x2="554.1" y2="315.3" stroke="#1a1a1a" stroke-width="1.0" />
<text transform="translate(554.1,323.5) scale(0.89,1)" font-size="9.2" text-anchor="middle" fill="#222" font-weight="normal" >10</text>
<line x1="590.9" y1="312.3" x2="590.9" y2="315.3" stroke="#1a1a1a" stroke-width="1.0" />
<text transform="translate(590.9,323.5) scale(0.89,1)" font-size="9.2" text-anchor="middle" fill="#222" font-weight="normal" >20</text>
<line x1="627.7" y1="312.3" x2="627.7" y2="315.3" stroke="#1a1a1a" stroke-width="1.0" />
<text transform="translate(627.7,323.5) scale(0.89,1)" font-size="9.2" text-anchor="middle" fill="#222" font-weight="normal" >30</text>
<line x1="664.5" y1="312.3" x2="664.5" y2="315.3" stroke="#1a1a1a" stroke-width="1.0" />
<text transform="translate(664.5,323.5) scale(0.89,1)" font-size="9.2" text-anchor="middle" fill="#222" font-weight="normal" >40</text>
<line x1="535.7" y1="312.3" x2="535.7" y2="314" stroke="#1a1a1a" stroke-width="1.0" />
<line x1="572.5" y1="312.3" x2="572.5" y2="314" stroke="#1a1a1a" stroke-width="1.0" />
<line x1="609.3" y1="312.3" x2="609.3" y2="314" stroke="#1a1a1a" stroke-width="1.0" />
<line x1="646.1" y1="312.3" x2="646.1" y2="314" stroke="#1a1a1a" stroke-width="1.0" />
<text x="591" y="337" font-size="8.2" text-anchor="middle" fill="#111" font-weight="bold" >Time (min)</text>
<text transform="translate(480.0,249.3) rotate(-90)" font-size="8.85" text-anchor="middle" font-weight="bold" fill="#111">Temperature (<tspan font-size="6.2" dy="-3.3">O</tspan><tspan dy="3.3">C)</tspan></text>
<polyline points="517.3,294.3 535.7,254.52 554.1,252.54 590.9,245.52 627.7,244.26 664.5,244.8" fill="none" stroke="#1E8B1E" stroke-width="0.85" stroke-linejoin="round" stroke-dasharray="3,2.3" opacity="0.9"/>
<polyline points="517.3,291.87 535.7,258.12 554.1,254.52 590.9,251.28 627.7,250.02 664.5,249.03" fill="none" stroke="#1E1EE6" stroke-width="0.85" stroke-linejoin="round" stroke-dasharray="3,2.3" opacity="0.9"/>
<polyline points="517.3,286.83 535.7,248.58 554.1,241.29 590.9,236.34 627.7,235.53 664.5,236.34" fill="none" stroke="#FF8C1A" stroke-width="0.85" stroke-linejoin="round" stroke-dasharray="3,2.3" opacity="0.9"/>
<polyline points="517.3,297.09 535.7,234.54 554.1,213.75 590.9,209.34 627.7,210.06 664.5,208.26" fill="none" stroke="#111111" stroke-width="0.85" stroke-linejoin="round" stroke-dasharray="3,2.3" opacity="0.9"/>
<line x1="517.3" y1="292.95" x2="517.3" y2="295.65" stroke="#1E8B1E" stroke-width="0.8" />
<line x1="515.9" y1="292.95" x2="518.7" y2="292.95" stroke="#1E8B1E" stroke-width="0.8" />
<line x1="515.9" y1="295.65" x2="518.7" y2="295.65" stroke="#1E8B1E" stroke-width="0.8" />
<circle cx="517.3" cy="294.3" r="2.3" fill="#1E8B1E"/>
<line x1="535.7" y1="252.72" x2="535.7" y2="256.32" stroke="#1E8B1E" stroke-width="0.8" />
<line x1="534.3" y1="252.72" x2="537.1" y2="252.72" stroke="#1E8B1E" stroke-width="0.8" />
<line x1="534.3" y1="256.32" x2="537.1" y2="256.32" stroke="#1E8B1E" stroke-width="0.8" />
<circle cx="535.7" cy="254.52" r="2.3" fill="#1E8B1E"/>
<line x1="554.1" y1="250.74" x2="554.1" y2="254.34" stroke="#1E8B1E" stroke-width="0.8" />
<line x1="552.7" y1="250.74" x2="555.5" y2="250.74" stroke="#1E8B1E" stroke-width="0.8" />
<line x1="552.7" y1="254.34" x2="555.5" y2="254.34" stroke="#1E8B1E" stroke-width="0.8" />
<circle cx="554.1" cy="252.54" r="2.3" fill="#1E8B1E"/>
<line x1="590.9" y1="243.27" x2="590.9" y2="247.77" stroke="#1E8B1E" stroke-width="0.8" />
<line x1="589.5" y1="243.27" x2="592.3" y2="243.27" stroke="#1E8B1E" stroke-width="0.8" />
<line x1="589.5" y1="247.77" x2="592.3" y2="247.77" stroke="#1E8B1E" stroke-width="0.8" />
<circle cx="590.9" cy="245.52" r="2.3" fill="#1E8B1E"/>
<line x1="627.7" y1="241.56" x2="627.7" y2="246.96" stroke="#1E8B1E" stroke-width="0.8" />
<line x1="626.3" y1="241.56" x2="629.1" y2="241.56" stroke="#1E8B1E" stroke-width="0.8" />
<line x1="626.3" y1="246.96" x2="629.1" y2="246.96" stroke="#1E8B1E" stroke-width="0.8" />
<circle cx="627.7" cy="244.26" r="2.3" fill="#1E8B1E"/>
<line x1="664.5" y1="242.1" x2="664.5" y2="247.5" stroke="#1E8B1E" stroke-width="0.8" />
<line x1="663.1" y1="242.1" x2="665.9" y2="242.1" stroke="#1E8B1E" stroke-width="0.8" />
<line x1="663.1" y1="247.5" x2="665.9" y2="247.5" stroke="#1E8B1E" stroke-width="0.8" />
<circle cx="664.5" cy="244.8" r="2.3" fill="#1E8B1E"/>
<line x1="517.3" y1="290.52" x2="517.3" y2="293.22" stroke="#1E1EE6" stroke-width="0.8" />
<line x1="515.9" y1="290.52" x2="518.7" y2="290.52" stroke="#1E1EE6" stroke-width="0.8" />
<line x1="515.9" y1="293.22" x2="518.7" y2="293.22" stroke="#1E1EE6" stroke-width="0.8" />
<circle cx="517.3" cy="291.87" r="2.3" fill="#1E1EE6"/>
<line x1="535.7" y1="256.32" x2="535.7" y2="259.92" stroke="#1E1EE6" stroke-width="0.8" />
<line x1="534.3" y1="256.32" x2="537.1" y2="256.32" stroke="#1E1EE6" stroke-width="0.8" />
<line x1="534.3" y1="259.92" x2="537.1" y2="259.92" stroke="#1E1EE6" stroke-width="0.8" />
<circle cx="535.7" cy="258.12" r="2.3" fill="#1E1EE6"/>
<line x1="554.1" y1="251.37" x2="554.1" y2="257.67" stroke="#1E1EE6" stroke-width="0.8" />
<line x1="552.7" y1="251.37" x2="555.5" y2="251.37" stroke="#1E1EE6" stroke-width="0.8" />
<line x1="552.7" y1="257.67" x2="555.5" y2="257.67" stroke="#1E1EE6" stroke-width="0.8" />
<circle cx="554.1" cy="254.52" r="2.3" fill="#1E1EE6"/>
<line x1="590.9" y1="249.48" x2="590.9" y2="253.08" stroke="#1E1EE6" stroke-width="0.8" />
<line x1="589.5" y1="249.48" x2="592.3" y2="249.48" stroke="#1E1EE6" stroke-width="0.8" />
<line x1="589.5" y1="253.08" x2="592.3" y2="253.08" stroke="#1E1EE6" stroke-width="0.8" />
<circle cx="590.9" cy="251.28" r="2.3" fill="#1E1EE6"/>
<line x1="627.7" y1="247.32" x2="627.7" y2="252.72" stroke="#1E1EE6" stroke-width="0.8" />
<line x1="626.3" y1="247.32" x2="629.1" y2="247.32" stroke="#1E1EE6" stroke-width="0.8" />
<line x1="626.3" y1="252.72" x2="629.1" y2="252.72" stroke="#1E1EE6" stroke-width="0.8" />
<circle cx="627.7" cy="250.02" r="2.3" fill="#1E1EE6"/>
<line x1="664.5" y1="246.78" x2="664.5" y2="251.28" stroke="#1E1EE6" stroke-width="0.8" />
<line x1="663.1" y1="246.78" x2="665.9" y2="246.78" stroke="#1E1EE6" stroke-width="0.8" />
<line x1="663.1" y1="251.28" x2="665.9" y2="251.28" stroke="#1E1EE6" stroke-width="0.8" />
<circle cx="664.5" cy="249.03" r="2.3" fill="#1E1EE6"/>
<line x1="517.3" y1="285.93" x2="517.3" y2="287.73" stroke="#FF8C1A" stroke-width="0.8" />
<line x1="515.9" y1="285.93" x2="518.7" y2="285.93" stroke="#FF8C1A" stroke-width="0.8" />
<line x1="515.9" y1="287.73" x2="518.7" y2="287.73" stroke="#FF8C1A" stroke-width="0.8" />
<circle cx="517.3" cy="286.83" r="2.3" fill="#FF8C1A"/>
<line x1="535.7" y1="246.78" x2="535.7" y2="250.38" stroke="#FF8C1A" stroke-width="0.8" />
<line x1="534.3" y1="246.78" x2="537.1" y2="246.78" stroke="#FF8C1A" stroke-width="0.8" />
<line x1="534.3" y1="250.38" x2="537.1" y2="250.38" stroke="#FF8C1A" stroke-width="0.8" />
<circle cx="535.7" cy="248.58" r="2.3" fill="#FF8C1A"/>
<line x1="554.1" y1="238.59" x2="554.1" y2="243.99" stroke="#FF8C1A" stroke-width="0.8" />
<line x1="552.7" y1="238.59" x2="555.5" y2="238.59" stroke="#FF8C1A" stroke-width="0.8" />
<line x1="552.7" y1="243.99" x2="555.5" y2="243.99" stroke="#FF8C1A" stroke-width="0.8" />
<circle cx="554.1" cy="241.29" r="2.3" fill="#FF8C1A"/>
<line x1="590.9" y1="234.54" x2="590.9" y2="238.14" stroke="#FF8C1A" stroke-width="0.8" />
<line x1="589.5" y1="234.54" x2="592.3" y2="234.54" stroke="#FF8C1A" stroke-width="0.8" />
<line x1="589.5" y1="238.14" x2="592.3" y2="238.14" stroke="#FF8C1A" stroke-width="0.8" />
<circle cx="590.9" cy="236.34" r="2.3" fill="#FF8C1A"/>
<line x1="627.7" y1="234.18" x2="627.7" y2="236.88" stroke="#FF8C1A" stroke-width="0.8" />
<line x1="626.3" y1="234.18" x2="629.1" y2="234.18" stroke="#FF8C1A" stroke-width="0.8" />
<line x1="626.3" y1="236.88" x2="629.1" y2="236.88" stroke="#FF8C1A" stroke-width="0.8" />
<circle cx="627.7" cy="235.53" r="2.3" fill="#FF8C1A"/>
<line x1="664.5" y1="234.54" x2="664.5" y2="238.14" stroke="#FF8C1A" stroke-width="0.8" />
<line x1="663.1" y1="234.54" x2="665.9" y2="234.54" stroke="#FF8C1A" stroke-width="0.8" />
<line x1="663.1" y1="238.14" x2="665.9" y2="238.14" stroke="#FF8C1A" stroke-width="0.8" />
<circle cx="664.5" cy="236.34" r="2.3" fill="#FF8C1A"/>
<line x1="517.3" y1="296.19" x2="517.3" y2="297.99" stroke="#111111" stroke-width="0.8" />
<line x1="515.9" y1="296.19" x2="518.7" y2="296.19" stroke="#111111" stroke-width="0.8" />
<line x1="515.9" y1="297.99" x2="518.7" y2="297.99" stroke="#111111" stroke-width="0.8" />
<circle cx="517.3" cy="297.09" r="2.3" fill="#111111"/>
<line x1="535.7" y1="233.19" x2="535.7" y2="235.89" stroke="#111111" stroke-width="0.8" />
<line x1="534.3" y1="233.19" x2="537.1" y2="233.19" stroke="#111111" stroke-width="0.8" />
<line x1="534.3" y1="235.89" x2="537.1" y2="235.89" stroke="#111111" stroke-width="0.8" />
<circle cx="535.7" cy="234.54" r="2.3" fill="#111111"/>
<line x1="554.1" y1="208.8" x2="554.1" y2="218.7" stroke="#111111" stroke-width="0.8" />
<line x1="552.7" y1="208.8" x2="555.5" y2="208.8" stroke="#111111" stroke-width="0.8" />
<line x1="552.7" y1="218.7" x2="555.5" y2="218.7" stroke="#111111" stroke-width="0.8" />
<circle cx="554.1" cy="213.75" r="2.3" fill="#111111"/>
<line x1="590.9" y1="207.99" x2="590.9" y2="210.69" stroke="#111111" stroke-width="0.8" />
<line x1="589.5" y1="207.99" x2="592.3" y2="207.99" stroke="#111111" stroke-width="0.8" />
<line x1="589.5" y1="210.69" x2="592.3" y2="210.69" stroke="#111111" stroke-width="0.8" />
<circle cx="590.9" cy="209.34" r="2.3" fill="#111111"/>
<line x1="627.7" y1="208.26" x2="627.7" y2="211.86" stroke="#111111" stroke-width="0.8" />
<line x1="626.3" y1="208.26" x2="629.1" y2="208.26" stroke="#111111" stroke-width="0.8" />
<line x1="626.3" y1="211.86" x2="629.1" y2="211.86" stroke="#111111" stroke-width="0.8" />
<circle cx="627.7" cy="210.06" r="2.3" fill="#111111"/>
<line x1="664.5" y1="206.01" x2="664.5" y2="210.51" stroke="#111111" stroke-width="0.8" />
<line x1="663.1" y1="206.01" x2="665.9" y2="206.01" stroke="#111111" stroke-width="0.8" />
<line x1="663.1" y1="210.51" x2="665.9" y2="210.51" stroke="#111111" stroke-width="0.8" />
<circle cx="664.5" cy="208.26" r="2.3" fill="#111111"/>
<text x="650" y="202.8" font-size="6.4" text-anchor="middle" fill="#111" font-weight="bold" >Position 1</text>
<text x="648.3" y="228.8" font-size="6.4" text-anchor="middle" fill="#FF8C1A" font-weight="bold" >Position 4</text>
<text x="611.4" y="264.6" font-size="6.4" text-anchor="middle" fill="#1E8B1E" font-weight="bold" >Position 2</text>
<text x="647" y="262" font-size="6.4" text-anchor="middle" fill="#1E1EE6" font-weight="bold" >Position 3</text>
<line x1="613.5" y1="259.6" x2="619.4" y2="244.1" stroke="#1E8B1E" stroke-width="0.8" />
<text x="1.6" y="190.7" font-size="16.5" text-anchor="start" fill="#000" font-weight="bold" >d</text>
<defs>
<linearGradient id="cbar" x1="0" y1="0" x2="0" y2="1">
 <stop offset="0" stop-color="#FFFFF4"/><stop offset="0.07" stop-color="#FFFFC8"/><stop offset="0.143" stop-color="#FFFF98"/><stop offset="0.286" stop-color="#FFFF30"/>
 <stop offset="0.36" stop-color="#FFF000"/><stop offset="0.429" stop-color="#FFD000"/><stop offset="0.5" stop-color="#FFB000"/><stop offset="0.571" stop-color="#FF8800"/>
 <stop offset="0.643" stop-color="#FF5800"/><stop offset="0.714" stop-color="#F02800"/><stop offset="0.786" stop-color="#D00800"/><stop offset="0.857" stop-color="#B00000"/><stop offset="1" stop-color="#6C0000"/>
</linearGradient>
<linearGradient id="faceA1" x1="0" y1="0" x2="0" y2="1">
 <stop offset="0" stop-color="#FFFF9C"/><stop offset="0.3" stop-color="#FFFF72"/><stop offset="0.52" stop-color="#FFF848"/>
 <stop offset="0.6" stop-color="#FFEA38"/><stop offset="0.67" stop-color="#FFC830"/><stop offset="0.74" stop-color="#FFAA34"/><stop offset="1" stop-color="#FF963E"/>
</linearGradient>
<linearGradient id="faceA2" x1="0" y1="0" x2="0" y2="1">
 <stop offset="0" stop-color="#FFFF94"/><stop offset="0.25" stop-color="#FFFF68"/><stop offset="0.45" stop-color="#FFF444"/>
 <stop offset="0.53" stop-color="#FFE034"/><stop offset="0.6" stop-color="#FFC030"/><stop offset="0.68" stop-color="#FFA834"/><stop offset="1" stop-color="#FF943E"/>
</linearGradient>
<linearGradient id="faceA3" x1="0" y1="0" x2="0" y2="1">
 <stop offset="0" stop-color="#FFFF8C"/><stop offset="0.22" stop-color="#FFFF60"/><stop offset="0.4" stop-color="#FFF440"/>
 <stop offset="0.48" stop-color="#FFDC34"/><stop offset="0.56" stop-color="#FFBC30"/><stop offset="0.65" stop-color="#FFA634"/><stop offset="1" stop-color="#FF923E"/>
</linearGradient>
<linearGradient id="faceB1" x1="0" y1="0" x2="0" y2="1">
 <stop offset="0" stop-color="#FFFF98"/><stop offset="0.3" stop-color="#FFFF6C"/><stop offset="0.58" stop-color="#FFF440"/>
 <stop offset="0.7" stop-color="#FFD834"/><stop offset="0.8" stop-color="#FFB034"/><stop offset="1" stop-color="#FFA040"/>
</linearGradient>
<linearGradient id="faceB2" x1="0" y1="0" x2="0" y2="1">
 <stop offset="0" stop-color="#FFFF90"/><stop offset="0.28" stop-color="#FFFF64"/><stop offset="0.52" stop-color="#FFF23E"/>
 <stop offset="0.64" stop-color="#FFD030"/><stop offset="0.74" stop-color="#FFB032"/><stop offset="1" stop-color="#FFA040"/>
</linearGradient>
<linearGradient id="faceB3" x1="0" y1="0" x2="0" y2="1">
 <stop offset="0" stop-color="#FFFF88"/><stop offset="0.25" stop-color="#FFFF5C"/><stop offset="0.48" stop-color="#FFF03C"/>
 <stop offset="0.6" stop-color="#FFCC30"/><stop offset="0.7" stop-color="#FFAC32"/><stop offset="1" stop-color="#FF9C40"/>
</linearGradient>
<linearGradient id="side" x1="0" y1="0" x2="1" y2="0">
 <stop offset="0" stop-color="#C8C488"/><stop offset="1" stop-color="#A09C6C"/>
</linearGradient>
<linearGradient id="sideV" x1="0" y1="0" x2="0" y2="1">
 <stop offset="0" stop-color="#fff" stop-opacity="0.12"/><stop offset="0.5" stop-color="#fff" stop-opacity="0"/><stop offset="1" stop-color="#a06010" stop-opacity="0.35"/>
</linearGradient>
<linearGradient id="coneL" x1="0" y1="0" x2="0" y2="1">
 <stop offset="0" stop-color="#C82020"/><stop offset="0.45" stop-color="#DC3420"/><stop offset="0.8" stop-color="#EE5A22"/><stop offset="1" stop-color="#F2C038"/>
</linearGradient>
<linearGradient id="coneR" x1="0" y1="0" x2="0" y2="1">
 <stop offset="0" stop-color="#B01818"/><stop offset="0.5" stop-color="#C42818"/><stop offset="0.82" stop-color="#D04818"/><stop offset="1" stop-color="#D09828"/>
</linearGradient>
<linearGradient id="rodL" x1="0" y1="0" x2="0" y2="1">
 <stop offset="0" stop-color="#C42020"/><stop offset="0.6" stop-color="#DA3A20"/><stop offset="0.88" stop-color="#E86020"/><stop offset="1" stop-color="#E8A030"/>
</linearGradient>
<linearGradient id="rodR" x1="0" y1="0" x2="0" y2="1">
 <stop offset="0" stop-color="#A81818"/><stop offset="0.7" stop-color="#BA2418"/><stop offset="1" stop-color="#C86020"/>
</linearGradient>
<linearGradient id="gcone" x1="0" y1="0" x2="1" y2="0">
 <stop offset="0" stop-color="#8A8A8A"/><stop offset="0.4" stop-color="#A8A8A8"/><stop offset="1" stop-color="#484848"/>
</linearGradient>
<linearGradient id="gconeV" x1="0" y1="0" x2="0" y2="1">
 <stop offset="0" stop-color="#fff" stop-opacity="1"/><stop offset="0.2" stop-color="#fff" stop-opacity="0.9"/><stop offset="0.55" stop-color="#fff" stop-opacity="0.25"/><stop offset="1" stop-color="#fff" stop-opacity="0"/>
</linearGradient>
<linearGradient id="grod" x1="0" y1="0" x2="0" y2="1">
 <stop offset="0" stop-color="#7A7A7A"/><stop offset="0.3" stop-color="#555555"/><stop offset="0.7" stop-color="#1A1A1A"/><stop offset="1" stop-color="#000000"/>
</linearGradient>
<linearGradient id="treeSide" x1="0" y1="0" x2="0" y2="1">
 <stop offset="0" stop-color="#FFFF58"/><stop offset="0.22" stop-color="#FFF444"/><stop offset="0.45" stop-color="#FFD034"/><stop offset="0.7" stop-color="#FFAC36"/><stop offset="1" stop-color="#FF9A40"/>
</linearGradient>
<radialGradient id="treeTopF" cx="0.5" cy="0.5" r="0.5">
 <stop offset="0" stop-color="#FFC838"/><stop offset="0.4" stop-color="#FFEC48"/><stop offset="0.7" stop-color="#FFFF60"/><stop offset="1" stop-color="#FFFF7C"/>
</radialGradient>
<linearGradient id="trunk" x1="0" y1="0" x2="1" y2="0">
 <stop offset="0" stop-color="#F06A30"/><stop offset="0.45" stop-color="#E03A1C"/><stop offset="1" stop-color="#B81C10"/>
</linearGradient>
<linearGradient id="spikeL" x1="0" y1="0" x2="0" y2="1">
 <stop offset="0" stop-color="#E85028"/><stop offset="1" stop-color="#C82014"/>
</linearGradient>
<linearGradient id="spikeT" x1="0" y1="0" x2="0" y2="1">
 <stop offset="0" stop-color="#E09050"/><stop offset="1" stop-color="#D05020"/>
</linearGradient>
<linearGradient id="wspike" x1="0" y1="0" x2="1" y2="0">
 <stop offset="0" stop-color="#FFFFFF"/><stop offset="1" stop-color="#D8D8D8"/>
</linearGradient>
<radialGradient id="dome" cx="0.45" cy="0.25" r="0.8">
 <stop offset="0" stop-color="#D0D0D0"/><stop offset="0.6" stop-color="#A0A0A0"/><stop offset="1" stop-color="#888888"/>
</radialGradient>
<filter id="blur03" x="-20%" y="-20%" width="140%" height="140%"><feGaussianBlur stdDeviation="0.35"/></filter>
<filter id="blur05" x="-30%" y="-30%" width="160%" height="160%"><feGaussianBlur stdDeviation="0.5"/></filter>
</defs>
<rect x="2.3" y="204.3" width="5.6" height="92.6" fill="url(#cbar)" stroke="#888" stroke-width="0.5"/>
<line x1="2.1" y1="204.4" x2="8.1" y2="204.4" stroke="#333" stroke-width="0.7"/>
<text x="10.6" y="206" font-size="4.8" text-anchor="start" fill="#444" font-weight="normal" >308</text>
<line x1="7.9" y1="204.3" x2="6.9" y2="204.3" stroke="#555" stroke-width="0.5" />
<line x1="2.3" y1="204.3" x2="3.3" y2="204.3" stroke="#555" stroke-width="0.5" />
<text x="10.6" y="219.23" font-size="4.8" text-anchor="start" fill="#444" font-weight="normal" >306</text>
<line x1="7.9" y1="217.53" x2="6.9" y2="217.53" stroke="#555" stroke-width="0.5" />
<line x1="2.3" y1="217.53" x2="3.3" y2="217.53" stroke="#555" stroke-width="0.5" />
<text x="10.6" y="232.46" font-size="4.8" text-anchor="start" fill="#444" font-weight="normal" >304</text>
<line x1="7.9" y1="230.76" x2="6.9" y2="230.76" stroke="#555" stroke-width="0.5" />
<line x1="2.3" y1="230.76" x2="3.3" y2="230.76" stroke="#555" stroke-width="0.5" />
<text x="10.6" y="245.69" font-size="4.8" text-anchor="start" fill="#444" font-weight="normal" >302</text>
<line x1="7.9" y1="243.99" x2="6.9" y2="243.99" stroke="#555" stroke-width="0.5" />
<line x1="2.3" y1="243.99" x2="3.3" y2="243.99" stroke="#555" stroke-width="0.5" />
<text x="10.6" y="258.92" font-size="4.8" text-anchor="start" fill="#444" font-weight="normal" >300</text>
<line x1="7.9" y1="257.22" x2="6.9" y2="257.22" stroke="#555" stroke-width="0.5" />
<line x1="2.3" y1="257.22" x2="3.3" y2="257.22" stroke="#555" stroke-width="0.5" />
<text x="10.6" y="272.15" font-size="4.8" text-anchor="start" fill="#444" font-weight="normal" >298</text>
<line x1="7.9" y1="270.45" x2="6.9" y2="270.45" stroke="#555" stroke-width="0.5" />
<line x1="2.3" y1="270.45" x2="3.3" y2="270.45" stroke="#555" stroke-width="0.5" />
<text x="10.6" y="285.38" font-size="4.8" text-anchor="start" fill="#444" font-weight="normal" >296</text>
<line x1="7.9" y1="283.68" x2="6.9" y2="283.68" stroke="#555" stroke-width="0.5" />
<line x1="2.3" y1="283.68" x2="3.3" y2="283.68" stroke="#555" stroke-width="0.5" />
<text x="10.6" y="298.61" font-size="4.8" text-anchor="start" fill="#444" font-weight="normal" >294</text>
<line x1="7.9" y1="296.91" x2="6.9" y2="296.91" stroke="#555" stroke-width="0.5" />
<line x1="2.3" y1="296.91" x2="3.3" y2="296.91" stroke="#555" stroke-width="0.5" />
<path d="M60.68,249.69 A23.2,7.6 0 0 0 69.6,243.7 L69.6,293.2 L60.68,293.2 Z" fill="url(#side)" stroke="#9a9670" stroke-width="0.3"/>
<path d="M60.68,249.69 A23.2,7.6 0 0 0 69.6,243.7 L69.6,293.2 L60.68,293.2 Z" fill="url(#sideV)"/>
<rect x="23.2" y="243.7" width="23.2" height="49.5" fill="url(#faceA1)" stroke="#a8a478" stroke-width="0.35"/>
<path d="M46.4,243.7 L60.68,249.69 L60.68,293.2 L46.4,293.2 Z" fill="url(#faceB1)" stroke="#a8a478" stroke-width="0.35"/>
<path d="M46.4,243.7 L23.2,243.7 A23.2,7.6 0 0 1 69.6,243.7 A23.2,7.6 0 0 1 60.68,249.69 Z" fill="#FFFFA8" stroke="#c0bc90" stroke-width="0.35"/>
<polyline points="23.2,283.2 46.4,283.2 60.68,289.19" fill="none" stroke="#c08840" stroke-width="0.35"/>
<rect x="71.1" y="205.0" width="53.0" height="88.9" fill="#000"/>
<ellipse cx="97.4" cy="281.7" rx="13.6" ry="3.7" fill="#fff" filter="url(#blur03)"/>
<path d="M170.48,249.79 A23.2,7.6 0 0 0 179.4,243.8 L179.4,293.8 L170.48,293.8 Z" fill="url(#side)" stroke="#9a9670" stroke-width="0.3"/>
<path d="M170.48,249.79 A23.2,7.6 0 0 0 179.4,243.8 L179.4,293.8 L170.48,293.8 Z" fill="url(#sideV)"/>
<rect x="133" y="243.8" width="23.2" height="50" fill="url(#faceA2)" stroke="#a8a478" stroke-width="0.35"/>
<path d="M156.2,243.8 L170.48,249.79 L170.48,293.8 L156.2,293.8 Z" fill="url(#faceB2)" stroke="#a8a478" stroke-width="0.35"/>
<path d="M156.2,243.8 L133,243.8 A23.2,7.6 0 0 1 179.4,243.8 A23.2,7.6 0 0 1 170.48,249.79 Z" fill="#FFFFA8" stroke="#c0bc90" stroke-width="0.35"/>
<polyline points="133,283.8 156.2,283.8 170.48,289.79" fill="none" stroke="#c08840" stroke-width="0.35"/>
<path d="M149.9,243.8 Q155,246.8 161.4,244.6 L156.4,201.8 Q155.6,200.8 154.8,201.8 Z" fill="url(#coneL)"/>
<path d="M155.4,246.3 Q159.8,246.2 161.4,244.6 L156.4,201.8 Q156,201.3 155.6,201.8 Z" fill="url(#coneR)"/>
<rect x="179.2" y="204.1" width="53.5" height="90.1" fill="#000"/>
<g filter="url(#blur03)"><ellipse cx="205.6" cy="279.6" rx="13.4" ry="3.4" fill="#fff"/><path d="M198.5,279.3 Q205.5,282.6 212.3,279.3 L206.2,214.5 Q205.5,213 204.8,214.5 Z" fill="url(#gcone)"/><path d="M198.5,279.3 Q205.5,282.6 212.3,279.3 L206.2,214.5 Q205.5,213 204.8,214.5 Z" fill="url(#gconeV)"/></g>
<path d="M276.84,249.69 A22,7.6 0 0 0 285.3,243.7 L285.3,293.3 L276.84,293.3 Z" fill="url(#side)" stroke="#9a9670" stroke-width="0.3"/>
<path d="M276.84,249.69 A22,7.6 0 0 0 285.3,243.7 L285.3,293.3 L276.84,293.3 Z" fill="url(#sideV)"/>
<rect x="241.3" y="243.7" width="22" height="49.6" fill="url(#faceA3)" stroke="#a8a478" stroke-width="0.35"/>
<path d="M263.3,243.7 L276.84,249.69 L276.84,293.3 L263.3,293.3 Z" fill="url(#faceB3)" stroke="#a8a478" stroke-width="0.35"/>
<path d="M263.3,243.7 L241.3,243.7 A22,7.6 0 0 1 285.3,243.7 A22,7.6 0 0 1 276.84,249.69 Z" fill="#FFFFA8" stroke="#c0bc90" stroke-width="0.35"/>
<polyline points="241.3,283.3 263.3,283.3 276.84,289.29" fill="none" stroke="#c08840" stroke-width="0.35"/>
<path d="M257.4,203 L264.2,203.6 L264.2,246.2 Q260,246 257.4,244.8 Z" fill="url(#rodL)"/>
<path d="M264.2,203.6 L269.8,203 L269.8,244.8 Q267.5,246 264.2,246.2 Z" fill="url(#rodR)"/>
<line x1="267.3" y1="203.5" x2="267.3" y2="245.5" stroke="#8a1010" stroke-width="0.5" opacity="0.6"/>
<ellipse cx="263.6" cy="203" rx="6.2" ry="1.5" fill="#E06048"/>
<rect x="286.0" y="203.4" width="54.9" height="90.2" fill="#000"/>
<g filter="url(#blur03)"><ellipse cx="311.6" cy="279.6" rx="13.4" ry="3.4" fill="#fff"/><ellipse cx="312.6" cy="278.1" rx="6.9" ry="1.8" fill="#000"/><rect x="305.8" y="213.8" width="13.7" height="45" fill="url(#grod)"/></g>
<path d="M349.6,250.8 L349.6,293.6 L400.6,293.6 L400.6,250.8 Z" fill="url(#treeSide)" stroke="#b0a070" stroke-width="0.35"/>
<line x1="354.3" y1="257" x2="354.3" y2="293.5" stroke="#b8a060" stroke-width="0.35"/><line x1="390.4" y1="258" x2="390.4" y2="293.5" stroke="#b8a060" stroke-width="0.35"/>
<ellipse cx="375.1" cy="250.8" rx="25.5" ry="8.3" fill="url(#treeTopF)" stroke="#b0a878" stroke-width="0.35"/>
<path d="M347.2,213.3 L371,226.6 L370,231.7 Z" fill="#EA4A30"/><path d="M347.2,213.3 L370,231.7 L369,236.8 Z" fill="#C42418"/><path d="M351.2,203 L371,215.5 L370.25,219.85 Z" fill="#EA4A30"/><path d="M351.2,203 L370.25,219.85 L369.5,224.2 Z" fill="#C42418"/><path d="M355.3,197.1 L372,206.7 L371.5,209.75 Z" fill="#E8884A"/><path d="M355.3,197.1 L371.5,209.75 L371,212.8 Z" fill="#C8602A"/><path d="M399.6,211.9 L379,226.6 L380.1,232.2 Z" fill="#E43E28"/><path d="M399.6,211.9 L380.1,232.2 L381.2,237.8 Z" fill="#B81C12"/><path d="M395.8,202.3 L378,214 L378.8,218.15 Z" fill="#E43E28"/><path d="M395.8,202.3 L378.8,218.15 L379.6,222.3 Z" fill="#B81C12"/><path d="M392.3,196.1 L377.5,207.4 L377.9,210.1 Z" fill="#E07E40"/><path d="M392.3,196.1 L377.9,210.1 L378.3,212.8 Z" fill="#C05A26"/><path d="M366.5,253.5 Q375,256.5 383.5,253 L381.6,237 L379.5,225 L377.4,212 L375.2,194.9 L373,212 L371.3,225 L369.4,237 Z" fill="url(#trunk)"/><path d="M375.8,255 L376.4,225 L376,206" fill="none" stroke="#a01810" stroke-width="0.4" opacity="0.6"/><path d="M369.4,237 Q375,239 381.6,237 M371.3,225 Q375,227 379.5,225 M373,212 Q375,213.5 377.4,212" fill="none" stroke="#a02818" stroke-width="0.35" opacity="0.6"/>
<text x="369.9" y="254.3" font-size="12" text-anchor="middle" fill="#000" font-weight="bold" >1</text>
<text x="369.9" y="238.1" font-size="12" text-anchor="middle" fill="#22A040" font-weight="bold" >2</text>
<text x="369.9" y="224.3" font-size="12" text-anchor="middle" fill="#4242E6" font-weight="bold" >3</text>
<text x="370.8" y="211.3" font-size="12" text-anchor="middle" fill="#FFB418" font-weight="bold" >4</text>
<rect x="401.3" y="204.0" width="54.7" height="89.6" fill="#000"/>
<g filter="url(#blur03)"><ellipse cx="429.6" cy="278.5" rx="13.1" ry="2.9" fill="#F4F4F4"/><path d="M422.8,278.5 L424.8,265 Q429.5,261.5 434.2,265 L436.2,278.5 Q429.5,280.5 422.8,278.5 Z" fill="url(#dome)"/><path d="M427,231 L429.7,212.4 L432.4,231 Z" fill="#FAFAFA"/><path d="M413.8,222.5 L429.7,229.4 L429.7,236.2 Z" fill="#F0F0F0"/><path d="M413.8,222.5 L429.7,234.4 L429.7,236.2 Z" fill="#B4B4B4"/><path d="M444.7,222.5 L429.7,229.4 L429.7,236.2 Z" fill="#FFFFFF"/><path d="M444.7,222.5 L429.7,234.4 L429.7,236.2 Z" fill="#C0C0C0"/><path d="M411.7,232.5 L429.7,240 L429.7,246.8 Z" fill="#F0F0F0"/><path d="M411.7,232.5 L429.7,245 L429.7,246.8 Z" fill="#B4B4B4"/><path d="M446.5,232.5 L429.7,240 L429.7,246.8 Z" fill="#FFFFFF"/><path d="M446.5,232.5 L429.7,245 L429.7,246.8 Z" fill="#C0C0C0"/><path d="M408.9,242.6 L429.7,250.6 L429.7,257.4 Z" fill="#F0F0F0"/><path d="M408.9,242.6 L429.7,255.6 L429.7,257.4 Z" fill="#B4B4B4"/><path d="M448.7,242.6 L429.7,250.6 L429.7,257.4 Z" fill="#FFFFFF"/><path d="M448.7,242.6 L429.7,255.6 L429.7,257.4 Z" fill="#C0C0C0"/><rect x="427.2" y="235.5" width="5" height="7.800000000000011" rx="1.5" fill="#D4D4D4"/><rect x="427.2" y="246" width="5" height="8" rx="1.5" fill="#D4D4D4"/><rect x="427.2" y="256.5" width="5" height="6.5" rx="1.5" fill="#D4D4D4"/></g>
</svg>
</body></html>
